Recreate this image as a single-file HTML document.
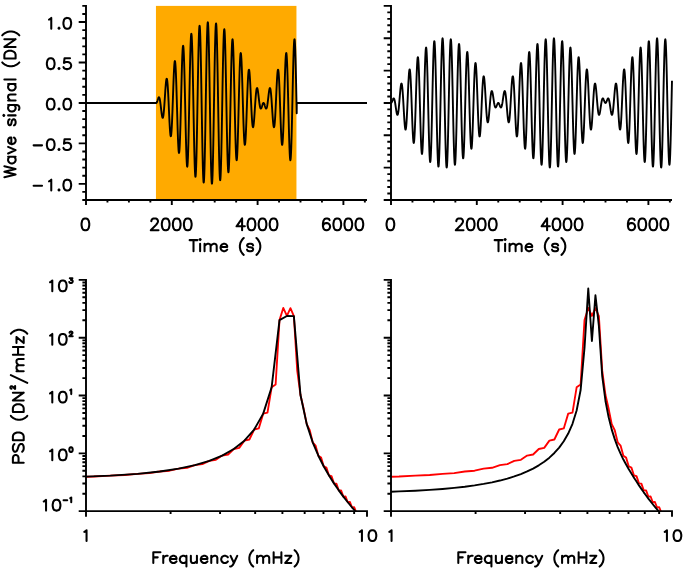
<!DOCTYPE html>
<html><head><meta charset="utf-8"><title>chart</title><style>html,body{margin:0;padding:0;background:#fff;font-family:"Liberation Sans",sans-serif}svg{display:block}</style></head><body>
<svg width="685" height="571" viewBox="0 0 685 571">
<rect width="685" height="571" fill="#fff"/>
<rect x="155.95" y="5.90" width="140.50" height="194.10" fill="#FFAA00"/>
<path d="M86.00 102.95L156.25 102.95L156.25 102.95L156.34 102.94L156.42 102.90L156.51 102.83L156.59 102.74L156.68 102.62L156.76 102.48L156.85 102.32L156.94 102.14L157.02 101.94L157.11 101.71L157.19 101.48L157.28 101.23L157.37 100.97L157.45 100.70L157.54 100.42L157.62 100.14L157.71 99.85L157.79 99.57L157.88 99.30L157.97 99.03L158.05 98.77L158.14 98.52L158.22 98.29L158.31 98.07L158.40 97.88L158.48 97.71L158.57 97.57L158.65 97.45L158.74 97.37L158.82 97.31L158.91 97.30L159.00 97.31L159.08 97.37L159.17 97.46L159.25 97.59L159.34 97.76L159.42 97.98L159.51 98.23L159.60 98.53L159.68 98.86L159.77 99.24L159.85 99.65L159.94 100.11L160.03 100.60L160.11 101.13L160.20 101.69L160.28 102.28L160.37 102.90L160.45 103.55L160.54 104.22L160.63 104.91L160.71 105.62L160.80 106.35L160.88 107.08L160.97 107.82L161.05 108.56L161.14 109.31L161.23 110.04L161.31 110.77L161.40 111.49L161.48 112.18L161.57 112.86L161.66 113.51L161.74 114.12L161.83 114.71L161.91 115.25L162.00 115.75L162.08 116.21L162.17 116.62L162.26 116.97L162.34 117.27L162.43 117.50L162.51 117.68L162.60 117.79L162.69 117.84L162.77 117.81L162.86 117.72L162.94 117.55L163.03 117.32L163.11 117.00L163.20 116.62L163.29 116.17L163.37 115.64L163.46 115.04L163.54 114.37L163.63 113.63L163.71 112.83L163.80 111.96L163.89 111.03L163.97 110.05L164.06 109.01L164.14 107.92L164.23 106.78L164.32 105.61L164.40 104.39L164.49 103.14L164.57 101.87L164.66 100.58L164.74 99.27L164.83 97.95L164.92 96.63L165.00 95.31L165.09 93.99L165.17 92.70L165.26 91.42L165.34 90.18L165.43 88.96L165.52 87.79L165.60 86.67L165.69 85.59L165.77 84.58L165.86 83.63L165.95 82.75L166.03 81.94L166.12 81.21L166.20 80.57L166.29 80.02L166.37 79.56L166.46 79.19L166.55 78.93L166.63 78.77L166.72 78.71L166.80 78.76L166.89 78.92L166.98 79.18L167.06 79.56L167.15 80.04L167.23 80.64L167.32 81.34L167.40 82.14L167.49 83.06L167.58 84.07L167.66 85.18L167.75 86.38L167.83 87.68L167.92 89.06L168.00 90.53L168.09 92.06L168.18 93.67L168.26 95.34L168.35 97.07L168.43 98.85L168.52 100.66L168.61 102.52L168.69 104.40L168.78 106.30L168.86 108.21L168.95 110.12L169.03 112.02L169.12 113.91L169.21 115.77L169.29 117.61L169.38 119.40L169.46 121.14L169.55 122.82L169.64 124.44L169.72 125.98L169.81 127.45L169.89 128.82L169.98 130.09L170.06 131.26L170.15 132.33L170.24 133.27L170.32 134.10L170.41 134.79L170.49 135.36L170.58 135.79L170.66 136.09L170.75 136.24L170.84 136.25L170.92 136.11L171.01 135.83L171.09 135.40L171.18 134.83L171.27 134.11L171.35 133.24L171.44 132.24L171.52 131.10L171.61 129.82L171.69 128.41L171.78 126.88L171.87 125.23L171.95 123.46L172.04 121.59L172.12 119.62L172.21 117.55L172.29 115.40L172.38 113.17L172.47 110.88L172.55 108.53L172.64 106.14L172.72 103.70L172.81 101.24L172.90 98.77L172.98 96.29L173.07 93.81L173.15 91.35L173.24 88.92L173.32 86.53L173.41 84.18L173.50 81.89L173.58 79.68L173.67 77.55L173.75 75.50L173.84 73.56L173.93 71.73L174.01 70.01L174.10 68.43L174.18 66.98L174.27 65.67L174.35 64.51L174.44 63.51L174.53 62.68L174.61 62.01L174.70 61.51L174.78 61.18L174.87 61.03L174.95 61.07L175.04 61.28L175.13 61.68L175.21 62.26L175.30 63.02L175.38 63.96L175.47 65.07L175.56 66.36L175.64 67.82L175.73 69.44L175.81 71.21L175.90 73.14L175.98 75.21L176.07 77.42L176.16 79.75L176.24 82.21L176.33 84.77L176.41 87.43L176.50 90.17L176.58 93.00L176.67 95.88L176.76 98.82L176.84 101.80L176.93 104.80L177.01 107.82L177.10 110.84L177.19 113.84L177.27 116.83L177.36 119.77L177.44 122.66L177.53 125.48L177.61 128.23L177.70 130.89L177.79 133.45L177.87 135.89L177.96 138.21L178.04 140.39L178.13 142.42L178.22 144.30L178.30 146.02L178.39 147.55L178.47 148.91L178.56 150.08L178.64 151.05L178.73 151.82L178.82 152.38L178.90 152.74L178.99 152.88L179.07 152.81L179.16 152.53L179.24 152.03L179.33 151.31L179.42 150.38L179.50 149.24L179.59 147.90L179.67 146.35L179.76 144.61L179.85 142.67L179.93 140.55L180.02 138.26L180.10 135.81L180.19 133.19L180.27 130.43L180.36 127.54L180.45 124.52L180.53 121.39L180.62 118.17L180.70 114.86L180.79 111.48L180.88 108.04L180.96 104.57L181.05 101.06L181.13 97.54L181.22 94.03L181.30 90.54L181.39 87.08L181.48 83.67L181.56 80.32L181.65 77.05L181.73 73.87L181.82 70.81L181.90 67.86L181.99 65.05L182.08 62.39L182.16 59.89L182.25 57.56L182.33 55.41L182.42 53.45L182.51 51.70L182.59 50.16L182.68 48.84L182.76 47.74L182.85 46.88L182.93 46.25L183.02 45.87L183.11 45.72L183.19 45.82L183.28 46.17L183.36 46.76L183.45 47.60L183.53 48.68L183.62 50.00L183.71 51.55L183.79 53.33L183.88 55.34L183.96 57.55L184.05 59.97L184.14 62.59L184.22 65.40L184.31 68.38L184.39 71.52L184.48 74.81L184.56 78.23L184.65 81.78L184.74 85.44L184.82 89.19L184.91 93.01L184.99 96.90L185.08 100.82L185.17 104.78L185.25 108.74L185.34 112.70L185.42 116.63L185.51 120.52L185.59 124.35L185.68 128.11L185.77 131.78L185.85 135.33L185.94 138.77L186.02 142.06L186.11 145.20L186.19 148.17L186.28 150.96L186.37 153.56L186.45 155.95L186.54 158.12L186.62 160.07L186.71 161.77L186.80 163.24L186.88 164.44L186.97 165.39L187.05 166.08L187.14 166.50L187.22 166.64L187.31 166.52L187.40 166.12L187.48 165.44L187.57 164.50L187.65 163.29L187.74 161.82L187.82 160.08L187.91 158.10L188.00 155.87L188.08 153.41L188.17 150.72L188.25 147.81L188.34 144.71L188.43 141.41L188.51 137.93L188.60 134.30L188.68 130.51L188.77 126.59L188.85 122.56L188.94 118.43L189.03 114.22L189.11 109.94L189.20 105.62L189.28 101.28L189.37 96.92L189.46 92.58L189.54 88.26L189.63 84.00L189.71 79.80L189.80 75.68L189.88 71.67L189.97 67.78L190.06 64.03L190.14 60.43L190.23 57.01L190.31 53.76L190.40 50.72L190.48 47.90L190.57 45.30L190.66 42.93L190.74 40.82L190.83 38.97L190.91 37.39L191.00 36.08L191.09 35.05L191.17 34.32L191.26 33.87L191.34 33.72L191.43 33.87L191.51 34.31L191.60 35.05L191.69 36.08L191.77 37.40L191.86 39.00L191.94 40.89L192.03 43.04L192.12 45.46L192.20 48.13L192.29 51.05L192.37 54.19L192.46 57.55L192.54 61.12L192.63 64.88L192.72 68.81L192.80 72.89L192.89 77.12L192.97 81.47L193.06 85.92L193.14 90.46L193.23 95.06L193.32 99.71L193.40 104.39L193.49 109.07L193.57 113.74L193.66 118.37L193.75 122.95L193.83 127.46L193.92 131.87L194.00 136.17L194.09 140.34L194.17 144.36L194.26 148.21L194.35 151.88L194.43 155.34L194.52 158.60L194.60 161.62L194.69 164.39L194.77 166.91L194.86 169.16L194.95 171.14L195.03 172.82L195.12 174.21L195.20 175.30L195.29 176.08L195.38 176.55L195.46 176.71L195.55 176.55L195.63 176.08L195.72 175.29L195.80 174.19L195.89 172.78L195.98 171.07L196.06 169.06L196.15 166.77L196.23 164.20L196.32 161.36L196.41 158.27L196.49 154.93L196.58 151.36L196.66 147.58L196.75 143.60L196.83 139.43L196.92 135.11L197.01 130.63L197.09 126.03L197.18 121.32L197.26 116.52L197.35 111.66L197.43 106.75L197.52 101.81L197.61 96.87L197.69 91.94L197.78 87.06L197.86 82.23L197.95 77.48L198.04 72.83L198.12 68.30L198.21 63.92L198.29 59.69L198.38 55.64L198.46 51.78L198.55 48.14L198.64 44.72L198.72 41.55L198.81 38.64L198.89 36.00L198.98 33.63L199.06 31.56L199.15 29.80L199.24 28.34L199.32 27.20L199.41 26.38L199.49 25.89L199.58 25.73L199.67 25.90L199.75 26.40L199.84 27.22L199.92 28.38L200.01 29.85L200.09 31.64L200.18 33.73L200.27 36.13L200.35 38.81L200.44 41.77L200.52 45.00L200.61 48.48L200.70 52.20L200.78 56.14L200.87 60.29L200.95 64.63L201.04 69.13L201.12 73.79L201.21 78.57L201.30 83.47L201.38 88.46L201.47 93.51L201.55 98.61L201.64 103.74L201.72 108.87L201.81 113.98L201.90 119.05L201.98 124.06L202.07 128.98L202.15 133.80L202.24 138.49L202.33 143.03L202.41 147.41L202.50 151.60L202.58 155.59L202.67 159.36L202.75 162.89L202.84 166.17L202.93 169.18L203.01 171.91L203.10 174.35L203.18 176.48L203.27 178.31L203.36 179.81L203.44 180.99L203.53 181.83L203.61 182.33L203.70 182.50L203.78 182.33L203.87 181.82L203.96 180.97L204.04 179.78L204.13 178.27L204.21 176.43L204.30 174.28L204.38 171.82L204.47 169.06L204.56 166.02L204.64 162.70L204.73 159.13L204.81 155.32L204.90 151.27L204.99 147.02L205.07 142.58L205.16 137.96L205.24 133.20L205.33 128.29L205.41 123.28L205.50 118.18L205.59 113.01L205.67 107.79L205.76 102.55L205.84 97.30L205.93 92.08L206.01 86.90L206.10 81.79L206.19 76.76L206.27 71.85L206.36 67.06L206.44 62.43L206.53 57.96L206.62 53.69L206.70 49.62L206.79 45.78L206.87 42.19L206.96 38.85L207.04 35.78L207.13 33.00L207.22 30.52L207.30 28.35L207.39 26.49L207.47 24.96L207.56 23.77L207.65 22.91L207.73 22.39L207.82 22.22L207.90 22.40L207.99 22.91L208.07 23.77L208.16 24.97L208.25 26.51L208.33 28.37L208.42 30.55L208.50 33.03L208.59 35.82L208.67 38.90L208.76 42.25L208.85 45.86L208.93 49.72L209.02 53.80L209.10 58.09L209.19 62.58L209.28 67.24L209.36 72.05L209.45 77.00L209.53 82.05L209.62 87.20L209.70 92.41L209.79 97.67L209.88 102.95L209.96 108.23L210.05 113.49L210.13 118.70L210.22 123.85L210.30 128.90L210.39 133.85L210.48 138.66L210.56 143.32L210.65 147.81L210.73 152.10L210.82 156.18L210.91 160.04L210.99 163.65L211.08 167.00L211.16 170.08L211.25 172.87L211.33 175.35L211.42 177.53L211.51 179.39L211.59 180.93L211.68 182.13L211.76 182.99L211.85 183.50L211.94 183.68L212.02 183.51L212.11 182.99L212.19 182.13L212.28 180.94L212.36 179.41L212.45 177.55L212.54 175.38L212.62 172.90L212.71 170.12L212.79 167.05L212.88 163.71L212.96 160.12L213.05 156.28L213.14 152.21L213.22 147.94L213.31 143.47L213.39 138.84L213.48 134.05L213.57 129.14L213.65 124.11L213.74 119.00L213.82 113.82L213.91 108.60L213.99 103.35L214.08 98.11L214.17 92.89L214.25 87.72L214.34 82.62L214.42 77.61L214.51 72.70L214.60 67.94L214.68 63.32L214.77 58.88L214.85 54.63L214.94 50.58L215.02 46.77L215.11 43.20L215.20 39.88L215.28 36.84L215.37 34.08L215.45 31.62L215.54 29.47L215.62 27.63L215.71 26.12L215.80 24.93L215.88 24.08L215.97 23.57L216.05 23.40L216.14 23.57L216.23 24.07L216.31 24.91L216.40 26.09L216.48 27.59L216.57 29.42L216.65 31.55L216.74 33.99L216.83 36.72L216.91 39.73L217.00 43.01L217.08 46.54L217.17 50.31L217.25 54.30L217.34 58.49L217.43 62.87L217.51 67.41L217.60 72.10L217.68 76.92L217.77 81.84L217.86 86.85L217.94 91.92L218.03 97.03L218.11 102.16L218.20 107.29L218.28 112.39L218.37 117.44L218.46 122.43L218.54 127.33L218.63 132.11L218.71 136.77L218.80 141.27L218.89 145.61L218.97 149.76L219.06 153.70L219.14 157.42L219.23 160.90L219.31 164.13L219.40 167.09L219.49 169.77L219.57 172.17L219.66 174.26L219.74 176.05L219.83 177.52L219.91 178.68L220.00 179.50L220.09 180.00L220.17 180.17L220.26 180.01L220.34 179.52L220.43 178.70L220.52 177.56L220.60 176.10L220.69 174.34L220.77 172.27L220.86 169.90L220.94 167.26L221.03 164.35L221.12 161.18L221.20 157.76L221.29 154.12L221.37 150.26L221.46 146.21L221.54 141.98L221.63 137.60L221.72 133.07L221.80 128.42L221.89 123.67L221.97 118.84L222.06 113.96L222.15 109.03L222.23 104.09L222.32 99.15L222.40 94.24L222.49 89.38L222.57 84.58L222.66 79.87L222.75 75.27L222.83 70.79L222.92 66.47L223.00 62.30L223.09 58.32L223.18 54.54L223.26 50.97L223.35 47.63L223.43 44.54L223.52 41.70L223.60 39.13L223.69 36.84L223.78 34.83L223.86 33.12L223.95 31.71L224.03 30.61L224.12 29.82L224.20 29.35L224.29 29.19L224.38 29.35L224.46 29.82L224.55 30.60L224.63 31.69L224.72 33.08L224.81 34.76L224.89 36.74L224.98 38.99L225.06 41.51L225.15 44.28L225.23 47.30L225.32 50.56L225.41 54.02L225.49 57.69L225.58 61.54L225.66 65.56L225.75 69.73L225.84 74.03L225.92 78.44L226.01 82.95L226.09 87.53L226.18 92.16L226.26 96.83L226.35 101.51L226.44 106.19L226.52 110.84L226.61 115.44L226.69 119.98L226.78 124.43L226.86 128.78L226.95 133.01L227.04 137.09L227.12 141.02L227.21 144.78L227.29 148.35L227.38 151.71L227.47 154.85L227.55 157.77L227.64 160.44L227.72 162.86L227.81 165.01L227.89 166.90L227.98 168.50L228.07 169.82L228.15 170.85L228.24 171.59L228.32 172.03L228.41 172.18L228.49 172.03L228.58 171.58L228.67 170.85L228.75 169.82L228.84 168.51L228.92 166.93L229.01 165.08L229.10 162.97L229.18 160.60L229.27 158.00L229.35 155.18L229.44 152.14L229.52 148.89L229.61 145.47L229.70 141.87L229.78 138.12L229.87 134.23L229.95 130.22L230.04 126.10L230.13 121.90L230.21 117.64L230.30 113.32L230.38 108.98L230.47 104.62L230.55 100.28L230.64 95.96L230.73 91.68L230.81 87.47L230.90 83.34L230.98 79.31L231.07 75.39L231.15 71.60L231.24 67.97L231.33 64.49L231.41 61.19L231.50 58.09L231.58 55.18L231.67 52.49L231.76 50.03L231.84 47.80L231.93 45.82L232.01 44.08L232.10 42.61L232.18 41.40L232.27 40.46L232.36 39.78L232.44 39.38L232.53 39.26L232.61 39.40L232.70 39.82L232.78 40.51L232.87 41.46L232.96 42.66L233.04 44.13L233.13 45.83L233.21 47.78L233.30 49.95L233.39 52.34L233.47 54.94L233.56 57.73L233.64 60.70L233.73 63.84L233.81 67.13L233.90 70.57L233.99 74.12L234.07 77.79L234.16 81.55L234.24 85.38L234.33 89.27L234.42 93.20L234.50 97.16L234.59 101.12L234.67 105.08L234.76 109.00L234.84 112.89L234.93 116.71L235.02 120.46L235.10 124.12L235.19 127.67L235.27 131.09L235.36 134.38L235.44 137.52L235.53 140.50L235.62 143.31L235.70 145.93L235.79 148.35L235.87 150.56L235.96 152.57L236.05 154.35L236.13 155.90L236.22 157.22L236.30 158.30L236.39 159.14L236.47 159.73L236.56 160.08L236.65 160.18L236.73 160.03L236.82 159.65L236.90 159.02L236.99 158.16L237.08 157.06L237.16 155.74L237.25 154.20L237.33 152.45L237.42 150.49L237.50 148.34L237.59 146.01L237.68 143.51L237.76 140.85L237.85 138.04L237.93 135.09L238.02 132.03L238.10 128.85L238.19 125.58L238.28 122.23L238.36 118.82L238.45 115.36L238.53 111.87L238.62 108.36L238.71 104.84L238.79 101.33L238.88 97.86L238.96 94.42L239.05 91.04L239.13 87.73L239.22 84.51L239.31 81.38L239.39 78.36L239.48 75.47L239.56 72.71L239.65 70.09L239.73 67.64L239.82 65.35L239.91 63.23L239.99 61.29L240.08 59.55L240.16 58.00L240.25 56.66L240.34 55.52L240.42 54.59L240.51 53.87L240.59 53.37L240.68 53.09L240.76 53.02L240.85 53.16L240.94 53.52L241.02 54.08L241.11 54.85L241.19 55.82L241.28 56.99L241.37 58.35L241.45 59.88L241.54 61.60L241.62 63.48L241.71 65.51L241.79 67.69L241.88 70.01L241.97 72.45L242.05 75.01L242.14 77.67L242.22 80.42L242.31 83.24L242.39 86.13L242.48 89.07L242.57 92.06L242.65 95.06L242.74 98.08L242.82 101.10L242.91 104.10L243.00 107.08L243.08 110.02L243.17 112.90L243.25 115.73L243.34 118.47L243.42 121.13L243.51 123.69L243.60 126.15L243.68 128.48L243.77 130.69L243.85 132.76L243.94 134.69L244.02 136.46L244.11 138.08L244.20 139.54L244.28 140.83L244.37 141.94L244.45 142.88L244.54 143.64L244.63 144.22L244.71 144.62L244.80 144.83L244.88 144.87L244.97 144.72L245.05 144.39L245.14 143.89L245.23 143.22L245.31 142.39L245.40 141.39L245.48 140.23L245.57 138.92L245.66 137.47L245.74 135.89L245.83 134.17L245.91 132.34L246.00 130.40L246.08 128.35L246.17 126.22L246.26 124.01L246.34 121.72L246.43 119.37L246.51 116.98L246.60 114.55L246.68 112.09L246.77 109.61L246.86 107.13L246.94 104.66L247.03 102.20L247.11 99.76L247.20 97.37L247.29 95.02L247.37 92.73L247.46 90.50L247.54 88.35L247.63 86.28L247.71 84.31L247.80 82.44L247.89 80.67L247.97 79.02L248.06 77.49L248.14 76.08L248.23 74.80L248.32 73.66L248.40 72.66L248.49 71.79L248.57 71.07L248.66 70.50L248.74 70.07L248.83 69.79L248.92 69.65L249.00 69.66L249.09 69.81L249.17 70.11L249.26 70.54L249.34 71.11L249.43 71.80L249.52 72.63L249.60 73.57L249.69 74.64L249.77 75.81L249.86 77.08L249.95 78.45L250.03 79.92L250.12 81.46L250.20 83.08L250.29 84.76L250.37 86.50L250.46 88.29L250.55 90.13L250.63 91.99L250.72 93.88L250.80 95.78L250.89 97.69L250.97 99.60L251.06 101.50L251.15 103.38L251.23 105.24L251.32 107.05L251.40 108.83L251.49 110.56L251.58 112.23L251.66 113.84L251.75 115.37L251.83 116.84L251.92 118.22L252.00 119.52L252.09 120.72L252.18 121.83L252.26 122.84L252.35 123.76L252.43 124.56L252.52 125.26L252.61 125.86L252.69 126.34L252.78 126.72L252.86 126.98L252.95 127.14L253.03 127.19L253.12 127.13L253.21 126.97L253.29 126.71L253.38 126.34L253.46 125.88L253.55 125.33L253.63 124.69L253.72 123.96L253.81 123.15L253.89 122.27L253.98 121.32L254.06 120.31L254.15 119.23L254.24 118.11L254.32 116.94L254.41 115.72L254.49 114.48L254.58 113.20L254.66 111.91L254.75 110.59L254.84 109.27L254.92 107.95L255.01 106.63L255.09 105.32L255.18 104.03L255.26 102.76L255.35 101.51L255.44 100.29L255.52 99.12L255.61 97.98L255.69 96.89L255.78 95.85L255.87 94.87L255.95 93.94L256.04 93.07L256.12 92.27L256.21 91.53L256.29 90.86L256.38 90.26L256.47 89.73L256.55 89.28L256.64 88.90L256.72 88.58L256.81 88.35L256.90 88.18L256.98 88.09L257.07 88.06L257.15 88.11L257.24 88.22L257.32 88.40L257.41 88.63L257.50 88.93L257.58 89.28L257.67 89.69L257.75 90.15L257.84 90.65L257.92 91.19L258.01 91.78L258.10 92.39L258.18 93.04L258.27 93.72L258.35 94.41L258.44 95.13L258.53 95.86L258.61 96.59L258.70 97.34L258.78 98.08L258.87 98.82L258.95 99.55L259.04 100.28L259.13 100.99L259.21 101.68L259.30 102.35L259.38 103.00L259.47 103.62L259.56 104.21L259.64 104.77L259.73 105.30L259.81 105.79L259.90 106.25L259.98 106.66L260.07 107.04L260.16 107.37L260.24 107.67L260.33 107.92L260.41 108.14L260.50 108.31L260.58 108.44L260.67 108.53L260.76 108.59L260.84 108.60L260.93 108.59L261.01 108.53L261.10 108.45L261.19 108.33L261.27 108.19L261.36 108.02L261.44 107.83L261.53 107.61L261.61 107.38L261.70 107.13L261.79 106.87L261.87 106.60L261.96 106.33L262.04 106.05L262.13 105.76L262.21 105.48L262.30 105.20L262.39 104.93L262.47 104.67L262.56 104.42L262.64 104.19L262.73 103.96L262.82 103.76L262.90 103.58L262.99 103.42L263.07 103.28L263.16 103.16L263.24 103.07L263.33 103.00L263.42 102.96L263.50 102.95L263.59 102.96L263.67 103.00L263.76 103.07L263.85 103.16L263.93 103.28L264.02 103.42L264.10 103.58L264.19 103.76L264.27 103.96L264.36 104.19L264.45 104.42L264.53 104.67L264.62 104.93L264.70 105.20L264.79 105.48L264.87 105.76L264.96 106.05L265.05 106.33L265.13 106.60L265.22 106.87L265.30 107.13L265.39 107.38L265.48 107.61L265.56 107.83L265.65 108.02L265.73 108.19L265.82 108.33L265.90 108.45L265.99 108.53L266.08 108.59L266.16 108.60L266.25 108.59L266.33 108.53L266.42 108.44L266.50 108.31L266.59 108.14L266.68 107.92L266.76 107.67L266.85 107.37L266.93 107.04L267.02 106.66L267.11 106.25L267.19 105.79L267.28 105.30L267.36 104.77L267.45 104.21L267.53 103.62L267.62 103.00L267.71 102.35L267.79 101.68L267.88 100.99L267.96 100.28L268.05 99.55L268.14 98.82L268.22 98.08L268.31 97.34L268.39 96.59L268.48 95.86L268.56 95.13L268.65 94.41L268.74 93.72L268.82 93.04L268.91 92.39L268.99 91.78L269.08 91.19L269.16 90.65L269.25 90.15L269.34 89.69L269.42 89.28L269.51 88.93L269.59 88.63L269.68 88.40L269.77 88.22L269.85 88.11L269.94 88.06L270.02 88.09L270.11 88.18L270.19 88.35L270.28 88.58L270.37 88.90L270.45 89.28L270.54 89.73L270.62 90.26L270.71 90.86L270.80 91.53L270.88 92.27L270.97 93.07L271.05 93.94L271.14 94.87L271.22 95.85L271.31 96.89L271.40 97.98L271.48 99.12L271.57 100.29L271.65 101.51L271.74 102.76L271.82 104.03L271.91 105.32L272.00 106.63L272.08 107.95L272.17 109.27L272.25 110.59L272.34 111.91L272.43 113.20L272.51 114.48L272.60 115.72L272.68 116.94L272.77 118.11L272.85 119.23L272.94 120.31L273.03 121.32L273.11 122.27L273.20 123.15L273.28 123.96L273.37 124.69L273.45 125.33L273.54 125.88L273.63 126.34L273.71 126.71L273.80 126.97L273.88 127.13L273.97 127.19L274.06 127.14L274.14 126.98L274.23 126.72L274.31 126.34L274.40 125.86L274.48 125.26L274.57 124.56L274.66 123.76L274.74 122.84L274.83 121.83L274.91 120.72L275.00 119.52L275.09 118.22L275.17 116.84L275.26 115.37L275.34 113.84L275.43 112.23L275.51 110.56L275.60 108.83L275.69 107.05L275.77 105.24L275.86 103.38L275.94 101.50L276.03 99.60L276.11 97.69L276.20 95.78L276.29 93.88L276.37 91.99L276.46 90.13L276.54 88.29L276.63 86.50L276.72 84.76L276.80 83.08L276.89 81.46L276.97 79.92L277.06 78.45L277.14 77.08L277.23 75.81L277.32 74.64L277.40 73.57L277.49 72.63L277.57 71.80L277.66 71.11L277.74 70.54L277.83 70.11L277.92 69.81L278.00 69.66L278.09 69.65L278.17 69.79L278.26 70.07L278.35 70.50L278.43 71.07L278.52 71.79L278.60 72.66L278.69 73.66L278.77 74.80L278.86 76.08L278.95 77.49L279.03 79.02L279.12 80.67L279.20 82.44L279.29 84.31L279.38 86.28L279.46 88.35L279.55 90.50L279.63 92.73L279.72 95.02L279.80 97.37L279.89 99.76L279.98 102.20L280.06 104.66L280.15 107.13L280.23 109.61L280.32 112.09L280.40 114.55L280.49 116.98L280.58 119.37L280.66 121.72L280.75 124.01L280.83 126.22L280.92 128.35L281.01 130.40L281.09 132.34L281.18 134.17L281.26 135.89L281.35 137.47L281.43 138.92L281.52 140.23L281.61 141.39L281.69 142.39L281.78 143.22L281.86 143.89L281.95 144.39L282.04 144.72L282.12 144.87L282.21 144.83L282.29 144.62L282.38 144.22L282.46 143.64L282.55 142.88L282.64 141.94L282.72 140.83L282.81 139.54L282.89 138.08L282.98 136.46L283.06 134.69L283.15 132.76L283.24 130.69L283.32 128.48L283.41 126.15L283.49 123.69L283.58 121.13L283.67 118.47L283.75 115.73L283.84 112.90L283.92 110.02L284.01 107.08L284.09 104.10L284.18 101.10L284.27 98.08L284.35 95.06L284.44 92.06L284.52 89.07L284.61 86.13L284.69 83.24L284.78 80.42L284.87 77.67L284.95 75.01L285.04 72.45L285.12 70.01L285.21 67.69L285.30 65.51L285.38 63.48L285.47 61.60L285.55 59.88L285.64 58.35L285.72 56.99L285.81 55.82L285.90 54.85L285.98 54.08L286.07 53.52L286.15 53.16L286.24 53.02L286.33 53.09L286.41 53.37L286.50 53.87L286.58 54.59L286.67 55.52L286.75 56.66L286.84 58.00L286.93 59.55L287.01 61.29L287.10 63.23L287.18 65.35L287.27 67.64L287.35 70.09L287.44 72.71L287.53 75.47L287.61 78.36L287.70 81.38L287.78 84.51L287.87 87.73L287.96 91.04L288.04 94.42L288.13 97.86L288.21 101.33L288.30 104.84L288.38 108.36L288.47 111.87L288.56 115.36L288.64 118.82L288.73 122.23L288.81 125.58L288.90 128.85L288.98 132.03L289.07 135.09L289.16 138.04L289.24 140.85L289.33 143.51L289.41 146.01L289.50 148.34L289.59 150.49L289.67 152.45L289.76 154.20L289.84 155.74L289.93 157.06L290.01 158.16L290.10 159.02L290.19 159.65L290.27 160.03L290.36 160.18L290.44 160.08L290.53 159.73L290.62 159.14L290.70 158.30L290.79 157.22L290.87 155.90L290.96 154.35L291.04 152.57L291.13 150.56L291.22 148.35L291.30 145.93L291.39 143.31L291.47 140.50L291.56 137.52L291.64 134.38L291.73 131.09L291.82 127.67L291.90 124.12L291.99 120.46L292.07 116.71L292.16 112.89L292.25 109.00L292.33 105.08L292.42 101.12L292.50 97.16L292.59 93.20L292.67 89.27L292.76 85.38L292.85 81.55L292.93 77.79L293.02 74.12L293.10 70.57L293.19 67.13L293.28 63.84L293.36 60.70L293.45 57.73L293.53 54.94L293.62 52.34L293.70 49.95L293.79 47.78L293.88 45.83L293.96 44.13L294.05 42.66L294.13 41.46L294.22 40.51L294.30 39.82L294.39 39.40L294.48 39.26L294.56 39.38L294.65 39.78L294.73 40.46L294.82 41.40L294.91 42.61L294.99 44.08L295.08 45.82L295.16 47.80L295.25 50.03L295.33 52.49L295.42 55.18L295.51 58.09L295.59 61.19L295.68 64.49L295.76 67.97L295.85 71.60L295.93 75.39L296.02 79.31L296.11 83.34L296.19 87.47L296.28 91.68L296.36 95.96L296.45 100.28L296.54 104.62L296.62 108.98L296.71 113.32L296.75 102.95L367.00 102.95" fill="none" stroke="#000" stroke-width="1.9" stroke-linecap="butt" stroke-linejoin="round"/>
<path d="M86.00 4.95L86.00 200.95M85.05 200.00L367.00 200.00M86.00 200.00L82.30 200.00M86.00 191.91L82.30 191.91M86.00 183.83L78.70 183.83M86.00 175.74L82.30 175.74M86.00 167.65L82.30 167.65M86.00 159.56L82.30 159.56M86.00 151.47L82.30 151.47M86.00 143.39L78.70 143.39M86.00 135.30L82.30 135.30M86.00 127.21L82.30 127.21M86.00 119.12L82.30 119.12M86.00 111.04L82.30 111.04M86.00 102.95L78.70 102.95M86.00 94.86L82.30 94.86M86.00 86.77L82.30 86.77M86.00 78.69L82.30 78.69M86.00 70.60L82.30 70.60M86.00 62.51L78.70 62.51M86.00 54.42L82.30 54.42M86.00 46.34L82.30 46.34M86.00 38.25L82.30 38.25M86.00 30.16L82.30 30.16M86.00 22.07L78.70 22.07M86.00 13.99L82.30 13.99M86.00 5.90L82.30 5.90M86.00 200.00L86.00 204.90M107.45 200.00L107.45 202.40M128.90 200.00L128.90 202.40M150.35 200.00L150.35 202.40M171.80 200.00L171.80 204.90M193.25 200.00L193.25 202.40M214.70 200.00L214.70 202.40M236.15 200.00L236.15 202.40M257.60 200.00L257.60 204.90M279.05 200.00L279.05 202.40M300.50 200.00L300.50 202.40M321.95 200.00L321.95 202.40M343.40 200.00L343.40 204.90M364.85 200.00L364.85 202.40" fill="none" stroke="#000" stroke-width="1.9" stroke-linecap="butt" stroke-linejoin="miter"/>
<path d="M84.85 218.44L83.19 219.00L82.09 220.70L81.54 223.52L81.54 225.22L82.09 228.04L83.19 229.74L84.85 230.30L85.95 230.30L87.61 229.74L88.71 228.04L89.26 225.22L89.26 223.52L88.71 220.70L87.61 219.00L85.95 218.44L84.85 218.44" fill="none" stroke="#000" stroke-width="2.05" stroke-linecap="round" stroke-linejoin="round"/>
<path d="M151.33 221.26L151.33 220.70L151.88 219.56L152.43 219.00L153.54 218.44L155.75 218.44L156.85 219.00L157.40 219.56L157.95 220.70L157.95 221.83L157.40 222.96L156.30 224.65L150.78 230.30L158.51 230.30M165.13 218.44L163.47 219.00L162.37 220.70L161.82 223.52L161.82 225.22L162.37 228.04L163.47 229.74L165.13 230.30L166.23 230.30L167.89 229.74L168.99 228.04L169.55 225.22L169.55 223.52L168.99 220.70L167.89 219.00L166.23 218.44L165.13 218.44M176.17 218.44L174.51 219.00L173.41 220.70L172.86 223.52L172.86 225.22L173.41 228.04L174.51 229.74L176.17 230.30L177.27 230.30L178.93 229.74L180.03 228.04L180.59 225.22L180.59 223.52L180.03 220.70L178.93 219.00L177.27 218.44L176.17 218.44M187.21 218.44L185.55 219.00L184.45 220.70L183.90 223.52L183.90 225.22L184.45 228.04L185.55 229.74L187.21 230.30L188.31 230.30L189.97 229.74L191.07 228.04L191.63 225.22L191.63 223.52L191.07 220.70L189.97 219.00L188.31 218.44L187.21 218.44" fill="none" stroke="#000" stroke-width="2.05" stroke-linecap="round" stroke-linejoin="round"/>
<path d="M242.10 218.44L236.58 226.34L244.86 226.34M242.10 218.44L242.10 230.30M250.93 218.44L249.28 219.00L248.17 220.70L247.62 223.52L247.62 225.22L248.17 228.04L249.28 229.74L250.93 230.30L252.04 230.30L253.69 229.74L254.80 228.04L255.35 225.22L255.35 223.52L254.80 220.70L253.69 219.00L252.04 218.44L250.93 218.44M261.97 218.44L260.32 219.00L259.21 220.70L258.66 223.52L258.66 225.22L259.21 228.04L260.32 229.74L261.97 230.30L263.08 230.30L264.73 229.74L265.84 228.04L266.39 225.22L266.39 223.52L265.84 220.70L264.73 219.00L263.08 218.44L261.97 218.44M273.01 218.44L271.36 219.00L270.25 220.70L269.70 223.52L269.70 225.22L270.25 228.04L271.36 229.74L273.01 230.30L274.12 230.30L275.77 229.74L276.88 228.04L277.43 225.22L277.43 223.52L276.88 220.70L275.77 219.00L274.12 218.44L273.01 218.44" fill="none" stroke="#000" stroke-width="2.05" stroke-linecap="round" stroke-linejoin="round"/>
<path d="M329.56 220.13L329.00 219.00L327.35 218.44L326.24 218.44L324.59 219.00L323.48 220.70L322.93 223.52L322.93 226.34L323.48 228.61L324.59 229.74L326.24 230.30L326.80 230.30L328.45 229.74L329.56 228.61L330.11 226.91L330.11 226.34L329.56 224.65L328.45 223.52L326.80 222.96L326.24 222.96L324.59 223.52L323.48 224.65L322.93 226.34M336.73 218.44L335.08 219.00L333.97 220.70L333.42 223.52L333.42 225.22L333.97 228.04L335.08 229.74L336.73 230.30L337.84 230.30L339.49 229.74L340.60 228.04L341.15 225.22L341.15 223.52L340.60 220.70L339.49 219.00L337.84 218.44L336.73 218.44M347.77 218.44L346.12 219.00L345.01 220.70L344.46 223.52L344.46 225.22L345.01 228.04L346.12 229.74L347.77 230.30L348.88 230.30L350.53 229.74L351.64 228.04L352.19 225.22L352.19 223.52L351.64 220.70L350.53 219.00L348.88 218.44L347.77 218.44M358.81 218.44L357.16 219.00L356.05 220.70L355.50 223.52L355.50 225.22L356.05 228.04L357.16 229.74L358.81 230.30L359.92 230.30L361.57 229.74L362.68 228.04L363.23 225.22L363.23 223.52L362.68 220.70L361.57 219.00L359.92 218.44L358.81 218.44" fill="none" stroke="#000" stroke-width="2.05" stroke-linecap="round" stroke-linejoin="round"/>
<path d="M193.51 240.13L193.51 251.20M189.64 240.13L197.37 240.13M199.58 239.61L200.13 240.13L200.68 239.61L200.13 239.08L199.58 239.61M200.13 243.82L200.13 251.20M204.55 243.82L204.55 251.20M204.55 245.93L206.20 244.35L207.31 243.82L208.96 243.82L210.07 244.35L210.62 245.93L210.62 251.20M210.62 245.93L212.28 244.35L213.38 243.82L215.04 243.82L216.14 244.35L216.69 245.93L216.69 251.20M220.56 246.98L227.18 246.98L227.18 245.93L226.63 244.88L226.08 244.35L224.97 243.82L223.32 243.82L222.21 244.35L221.11 245.40L220.56 246.98L220.56 248.04L221.11 249.62L222.21 250.67L223.32 251.20L224.97 251.20L226.08 250.67L227.18 249.62M243.74 238.02L242.64 239.08L241.53 240.66L240.43 242.77L239.88 245.40L239.88 247.51L240.43 250.15L241.53 252.25L242.64 253.83L243.74 254.89M253.12 245.40L252.57 244.35L250.92 243.82L249.26 243.82L247.60 244.35L247.05 245.40L247.60 246.46L248.71 246.98L251.47 247.51L252.57 248.04L253.12 249.09L253.12 249.62L252.57 250.67L250.92 251.20L249.26 251.20L247.60 250.67L247.05 249.62M256.44 238.02L257.54 239.08L258.64 240.66L259.75 242.77L260.30 245.40L260.30 247.51L259.75 250.15L258.64 252.25L257.54 253.83L256.44 254.89" fill="none" stroke="#000" stroke-width="2.05" stroke-linecap="round" stroke-linejoin="round"/>
<path d="M49.01 19.59L49.84 19.18L51.27 17.90L51.27 28.67M59.00 27.65L58.45 28.16L59.00 28.67L59.55 28.16L59.00 27.65M66.73 17.90L65.07 18.41L63.97 19.95L63.42 22.52L63.42 24.06L63.97 26.62L65.07 28.16L66.73 28.67L67.83 28.67L69.49 28.16L70.59 26.62L71.14 24.06L71.14 22.52L70.59 19.95L69.49 18.41L67.83 17.90L66.73 17.90" fill="none" stroke="#000" stroke-width="2.05" stroke-linecap="round" stroke-linejoin="round"/>
<path d="M50.17 58.34L48.51 58.85L47.41 60.39L46.86 62.96L46.86 64.50L47.41 67.06L48.51 68.60L50.17 69.11L51.27 69.11L52.93 68.60L54.03 67.06L54.58 64.50L54.58 62.96L54.03 60.39L52.93 58.85L51.27 58.34L50.17 58.34M59.00 68.09L58.45 68.60L59.00 69.11L59.55 68.60L59.00 68.09M70.04 58.34L64.52 58.34L63.97 62.96L64.52 62.44L66.18 61.93L67.83 61.93L69.49 62.44L70.59 63.47L71.14 65.01L71.14 66.03L70.59 67.57L69.49 68.60L67.83 69.11L66.18 69.11L64.52 68.60L63.97 68.09L63.42 67.06" fill="none" stroke="#000" stroke-width="2.05" stroke-linecap="round" stroke-linejoin="round"/>
<path d="M50.17 98.78L48.51 99.29L47.41 100.83L46.86 103.39L46.86 104.93L47.41 107.50L48.51 109.04L50.17 109.55L51.27 109.55L52.93 109.04L54.03 107.50L54.58 104.93L54.58 103.39L54.03 100.83L52.93 99.29L51.27 98.78L50.17 98.78M59.00 108.52L58.45 109.04L59.00 109.55L59.55 109.04L59.00 108.52M66.73 98.78L65.07 99.29L63.97 100.83L63.42 103.39L63.42 104.93L63.97 107.50L65.07 109.04L66.73 109.55L67.83 109.55L69.49 109.04L70.59 107.50L71.14 104.93L71.14 103.39L70.59 100.83L69.49 99.29L67.83 98.78L66.73 98.78" fill="none" stroke="#000" stroke-width="2.05" stroke-linecap="round" stroke-linejoin="round"/>
<path d="M33.61 145.37L42.05 145.37M50.17 139.21L48.51 139.73L47.41 141.27L46.86 143.83L46.86 145.37L47.41 147.94L48.51 149.47L50.17 149.99L51.27 149.99L52.93 149.47L54.03 147.94L54.58 145.37L54.58 143.83L54.03 141.27L52.93 139.73L51.27 139.21L50.17 139.21M59.00 148.96L58.45 149.47L59.00 149.99L59.55 149.47L59.00 148.96M70.04 139.21L64.52 139.21L63.97 143.83L64.52 143.32L66.18 142.81L67.83 142.81L69.49 143.32L70.59 144.34L71.14 145.88L71.14 146.91L70.59 148.45L69.49 149.47L67.83 149.99L66.18 149.99L64.52 149.47L63.97 148.96L63.42 147.94" fill="none" stroke="#000" stroke-width="2.05" stroke-linecap="round" stroke-linejoin="round"/>
<path d="M33.61 185.81L42.05 185.81M49.01 181.34L49.84 180.93L51.27 179.65L51.27 190.43M59.00 189.40L58.45 189.91L59.00 190.43L59.55 189.91L59.00 189.40M66.73 179.65L65.07 180.17L63.97 181.70L63.42 184.27L63.42 185.81L63.97 188.37L65.07 189.91L66.73 190.43L67.83 190.43L69.49 189.91L70.59 188.37L71.14 185.81L71.14 184.27L70.59 181.70L69.49 180.17L67.83 179.65L66.73 179.65" fill="none" stroke="#000" stroke-width="2.05" stroke-linecap="round" stroke-linejoin="round"/>
<path d="M4.36 177.22L15.60 174.46M4.36 171.70L15.60 174.46M4.36 171.70L15.60 168.94M4.36 166.18L15.60 168.94M8.11 156.79L15.60 156.79M9.71 156.79L8.64 157.90L8.11 159.00L8.11 160.66L8.64 161.76L9.71 162.86L11.32 163.42L12.39 163.42L13.99 162.86L15.06 161.76L15.60 160.66L15.60 159.00L15.06 157.90L13.99 156.79M8.11 153.48L15.60 150.17M8.11 146.86L15.60 150.17M11.32 144.10L11.32 137.47L10.25 137.47L9.18 138.02L8.64 138.58L8.11 139.68L8.11 141.34L8.64 142.44L9.71 143.54L11.32 144.10L12.39 144.10L13.99 143.54L15.06 142.44L15.60 141.34L15.60 139.68L15.06 138.58L13.99 137.47M9.71 119.26L8.64 119.81L8.11 121.46L8.11 123.12L8.64 124.78L9.71 125.33L10.79 124.78L11.32 123.67L11.86 120.91L12.39 119.81L13.46 119.26L13.99 119.26L15.06 119.81L15.60 121.46L15.60 123.12L15.06 124.78L13.99 125.33M3.83 115.94L4.36 115.39L3.83 114.84L3.29 115.39L3.83 115.94M8.11 115.39L15.60 115.39M8.11 104.90L16.67 104.90L18.27 105.46L18.81 106.01L19.34 107.11L19.34 108.77L18.81 109.87M9.71 104.90L8.64 106.01L8.11 107.11L8.11 108.77L8.64 109.87L9.71 110.98L11.32 111.53L12.39 111.53L13.99 110.98L15.06 109.87L15.60 108.77L15.60 107.11L15.06 106.01L13.99 104.90M8.11 100.49L15.60 100.49M10.25 100.49L8.64 98.83L8.11 97.73L8.11 96.07L8.64 94.97L10.25 94.42L15.60 94.42M8.11 83.93L15.60 83.93M9.71 83.93L8.64 85.03L8.11 86.14L8.11 87.79L8.64 88.90L9.71 90.00L11.32 90.55L12.39 90.55L13.99 90.00L15.06 88.90L15.60 87.79L15.60 86.14L15.06 85.03L13.99 83.93M4.36 79.51L15.60 79.51M2.22 62.40L3.29 63.50L4.90 64.61L7.04 65.71L9.71 66.26L11.86 66.26L14.53 65.71L16.67 64.61L18.27 63.50L19.34 62.40M4.36 58.54L15.60 58.54M4.36 58.54L4.36 54.67L4.90 53.02L5.97 51.91L7.04 51.36L8.64 50.81L11.32 50.81L12.92 51.36L13.99 51.91L15.06 53.02L15.60 54.67L15.60 58.54M4.36 46.94L15.60 46.94M4.36 46.94L15.60 39.22M4.36 39.22L15.60 39.22M2.22 35.35L3.29 34.25L4.90 33.14L7.04 32.04L9.71 31.49L11.86 31.49L14.53 32.04L16.67 33.14L18.27 34.25L19.34 35.35" fill="none" stroke="#000" stroke-width="2.05" stroke-linecap="round" stroke-linejoin="round"/>
<path d="M391.00 102.95L391.09 102.94L391.17 102.91L391.26 102.85L391.34 102.78L391.43 102.69L391.51 102.58L391.60 102.45L391.69 102.30L391.77 102.14L391.86 101.96L391.94 101.77L392.03 101.57L392.12 101.36L392.20 101.15L392.29 100.92L392.37 100.70L392.46 100.47L392.54 100.25L392.63 100.03L392.72 99.81L392.80 99.60L392.89 99.41L392.97 99.22L393.06 99.05L393.15 98.90L393.23 98.76L393.32 98.64L393.40 98.55L393.49 98.48L393.57 98.44L393.66 98.43L393.75 98.44L393.83 98.48L393.92 98.56L394.00 98.66L394.09 98.80L394.17 98.97L394.26 99.17L394.35 99.41L394.43 99.68L394.52 99.98L394.60 100.31L394.69 100.68L394.78 101.07L394.86 101.49L394.95 101.94L395.03 102.41L395.12 102.91L395.20 103.43L395.29 103.97L395.38 104.52L395.46 105.09L395.55 105.67L395.63 106.25L395.72 106.85L395.80 107.44L395.89 108.04L395.98 108.63L396.06 109.21L396.15 109.78L396.23 110.34L396.32 110.88L396.41 111.39L396.49 111.89L396.58 112.36L396.66 112.79L396.75 113.19L396.83 113.56L396.92 113.88L397.01 114.17L397.09 114.40L397.18 114.59L397.26 114.73L397.35 114.82L397.44 114.86L397.52 114.84L397.61 114.76L397.69 114.63L397.78 114.44L397.86 114.19L397.95 113.89L398.04 113.52L398.12 113.10L398.21 112.62L398.29 112.09L398.38 111.50L398.46 110.85L398.55 110.16L398.64 109.42L398.72 108.63L398.81 107.80L398.89 106.93L398.98 106.02L399.07 105.07L399.15 104.10L399.24 103.11L399.32 102.09L399.41 101.05L399.49 100.00L399.58 98.95L399.67 97.89L399.75 96.83L399.84 95.79L399.92 94.75L400.01 93.73L400.09 92.73L400.18 91.76L400.27 90.82L400.35 89.92L400.44 89.06L400.52 88.25L400.61 87.49L400.70 86.79L400.78 86.14L400.87 85.56L400.95 85.05L401.04 84.60L401.12 84.24L401.21 83.94L401.30 83.73L401.38 83.60L401.47 83.56L401.55 83.60L401.64 83.72L401.73 83.94L401.81 84.24L401.90 84.62L401.98 85.10L402.07 85.66L402.15 86.31L402.24 87.03L402.33 87.84L402.41 88.73L402.50 89.70L402.58 90.73L402.67 91.84L402.75 93.01L402.84 94.24L402.93 95.53L403.01 96.86L403.10 98.25L403.18 99.67L403.27 101.12L403.36 102.60L403.44 104.11L403.53 105.63L403.61 107.15L403.70 108.68L403.78 110.21L403.87 111.72L403.96 113.21L404.04 114.68L404.13 116.11L404.21 117.50L404.30 118.85L404.39 120.14L404.47 121.38L404.56 122.55L404.64 123.64L404.73 124.66L404.81 125.60L404.90 126.45L404.99 127.21L405.07 127.87L405.16 128.43L405.24 128.88L405.33 129.22L405.41 129.46L405.50 129.58L405.59 129.59L405.67 129.48L405.76 129.25L405.84 128.91L405.93 128.45L406.02 127.88L406.10 127.19L406.19 126.38L406.27 125.47L406.36 124.45L406.44 123.32L406.53 122.10L406.62 120.77L406.70 119.36L406.79 117.86L406.87 116.28L406.96 114.63L407.04 112.91L407.13 111.13L407.22 109.30L407.30 107.42L407.39 105.50L407.47 103.55L407.56 101.59L407.65 99.60L407.73 97.62L407.82 95.64L407.90 93.67L407.99 91.73L408.07 89.81L408.16 87.93L408.25 86.11L408.33 84.33L408.42 82.63L408.50 80.99L408.59 79.44L408.68 77.97L408.76 76.60L408.85 75.33L408.93 74.17L409.02 73.13L409.10 72.20L409.19 71.40L409.28 70.73L409.36 70.19L409.45 69.79L409.53 69.53L409.62 69.42L409.70 69.45L409.79 69.62L409.88 69.94L409.96 70.40L410.05 71.01L410.13 71.76L410.22 72.65L410.31 73.68L410.39 74.84L410.48 76.14L410.56 77.56L410.65 79.10L410.73 80.76L410.82 82.53L410.91 84.39L410.99 86.36L411.08 88.41L411.16 90.53L411.25 92.73L411.33 94.99L411.42 97.30L411.51 99.65L411.59 102.03L411.68 104.43L411.76 106.85L411.85 109.26L411.94 111.67L412.02 114.05L412.11 116.40L412.19 118.72L412.28 120.98L412.36 123.18L412.45 125.30L412.54 127.35L412.62 129.30L412.71 131.16L412.79 132.90L412.88 134.53L412.97 136.03L413.05 137.40L413.14 138.63L413.22 139.72L413.31 140.65L413.39 141.43L413.48 142.05L413.57 142.50L413.65 142.78L413.74 142.90L413.82 142.84L413.91 142.61L413.99 142.21L414.08 141.64L414.17 140.89L414.25 139.98L414.34 138.91L414.42 137.67L414.51 136.27L414.60 134.73L414.68 133.03L414.77 131.20L414.85 129.23L414.94 127.14L415.02 124.94L415.11 122.62L415.20 120.21L415.28 117.71L415.37 115.12L415.45 112.48L415.54 109.77L415.63 107.02L415.71 104.24L415.80 101.44L415.88 98.63L415.97 95.81L416.05 93.02L416.14 90.25L416.23 87.52L416.31 84.84L416.40 82.23L416.48 79.69L416.57 77.24L416.65 74.88L416.74 72.63L416.83 70.50L416.91 68.50L417.00 66.63L417.08 64.92L417.17 63.35L417.26 61.95L417.34 60.72L417.43 59.66L417.51 58.79L417.60 58.09L417.68 57.59L417.77 57.28L417.86 57.17L417.94 57.25L418.03 57.53L418.11 58.00L418.20 58.67L418.28 59.54L418.37 60.59L418.46 61.83L418.54 63.26L418.63 64.86L418.71 66.63L418.80 68.57L418.89 70.66L418.97 72.91L419.06 75.29L419.14 77.80L419.23 80.44L419.31 83.18L419.40 86.02L419.49 88.94L419.57 91.94L419.66 95.00L419.74 98.11L419.83 101.25L419.92 104.41L420.00 107.58L420.09 110.75L420.17 113.89L420.26 117.01L420.34 120.07L420.43 123.08L420.52 126.01L420.60 128.86L420.69 131.60L420.77 134.24L420.86 136.75L420.94 139.13L421.03 141.36L421.12 143.44L421.20 145.35L421.29 147.09L421.37 148.64L421.46 150.01L421.55 151.18L421.63 152.14L421.72 152.90L421.80 153.45L421.89 153.79L421.97 153.90L422.06 153.80L422.15 153.48L422.23 152.94L422.32 152.19L422.40 151.22L422.49 150.04L422.57 148.66L422.66 147.07L422.75 145.29L422.83 143.32L422.92 141.16L423.00 138.84L423.09 136.35L423.18 133.72L423.26 130.94L423.35 128.03L423.43 125.00L423.52 121.86L423.60 118.64L423.69 115.33L423.78 111.96L423.86 108.54L423.95 105.09L424.03 101.61L424.12 98.13L424.21 94.65L424.29 91.20L424.38 87.79L424.46 84.43L424.55 81.14L424.63 77.93L424.72 74.82L424.81 71.81L424.89 68.94L424.98 66.19L425.06 63.60L425.15 61.17L425.23 58.91L425.32 56.83L425.41 54.94L425.49 53.25L425.58 51.77L425.66 50.50L425.75 49.45L425.84 48.63L425.92 48.04L426.01 47.69L426.09 47.57L426.18 47.68L426.26 48.04L426.35 48.63L426.44 49.45L426.52 50.51L426.61 51.79L426.69 53.30L426.78 55.02L426.87 56.96L426.95 59.10L427.04 61.43L427.12 63.94L427.21 66.63L427.29 69.49L427.38 72.49L427.47 75.64L427.55 78.91L427.64 82.29L427.72 85.77L427.81 89.33L427.89 92.96L427.98 96.64L428.07 100.36L428.15 104.10L428.24 107.85L428.32 111.58L428.41 115.29L428.50 118.95L428.58 122.56L428.67 126.09L428.75 129.53L428.84 132.86L428.92 136.08L429.01 139.16L429.10 142.09L429.18 144.87L429.27 147.47L429.35 149.88L429.44 152.10L429.52 154.12L429.61 155.92L429.70 157.50L429.78 158.85L429.87 159.96L429.95 160.83L430.04 161.46L430.13 161.83L430.21 161.96L430.30 161.83L430.38 161.45L430.47 160.82L430.55 159.94L430.64 158.81L430.73 157.44L430.81 155.84L430.90 154.01L430.98 151.95L431.07 149.68L431.16 147.20L431.24 144.53L431.33 141.68L431.41 138.65L431.50 135.47L431.58 132.14L431.67 128.67L431.76 125.10L431.84 121.41L431.93 117.65L432.01 113.81L432.10 109.92L432.18 105.99L432.27 102.04L432.36 98.08L432.44 94.14L432.53 90.23L432.61 86.37L432.70 82.57L432.79 78.85L432.87 75.23L432.96 71.72L433.04 68.34L433.13 65.10L433.21 62.02L433.30 59.10L433.39 56.37L433.47 53.83L433.56 51.50L433.64 49.39L433.73 47.50L433.81 45.84L433.90 44.43L433.99 43.26L434.07 42.35L434.16 41.70L434.24 41.30L434.33 41.18L434.42 41.31L434.50 41.71L434.59 42.37L434.67 43.29L434.76 44.47L434.84 45.90L434.93 47.58L435.02 49.49L435.10 51.64L435.19 54.01L435.27 56.59L435.36 59.38L435.45 62.35L435.53 65.50L435.62 68.82L435.70 72.29L435.79 75.89L435.87 79.62L435.96 83.45L436.05 87.37L436.13 91.35L436.22 95.40L436.30 99.48L436.39 103.58L436.47 107.69L436.56 111.77L436.65 115.83L436.73 119.84L436.82 123.77L436.90 127.63L436.99 131.38L437.08 135.01L437.16 138.52L437.25 141.87L437.33 145.06L437.42 148.08L437.50 150.90L437.59 153.52L437.68 155.93L437.76 158.12L437.85 160.07L437.93 161.78L438.02 163.24L438.11 164.44L438.19 165.38L438.28 166.05L438.36 166.46L438.45 166.59L438.53 166.45L438.62 166.04L438.71 165.36L438.79 164.42L438.88 163.20L438.96 161.73L439.05 160.01L439.13 158.04L439.22 155.84L439.31 153.40L439.39 150.75L439.48 147.90L439.56 144.84L439.65 141.61L439.74 138.21L439.82 134.65L439.91 130.96L439.99 127.15L440.08 123.23L440.16 119.22L440.25 115.13L440.34 111.00L440.42 106.82L440.51 102.63L440.59 98.43L440.68 94.25L440.76 90.11L440.85 86.02L440.94 82.00L441.02 78.07L441.11 74.24L441.19 70.53L441.28 66.96L441.37 63.54L441.45 60.29L441.54 57.22L441.62 54.34L441.71 51.67L441.79 49.22L441.88 46.99L441.97 45.01L442.05 43.27L442.14 41.78L442.22 40.56L442.31 39.60L442.40 38.92L442.48 38.51L442.57 38.37L442.65 38.51L442.74 38.92L442.82 39.61L442.91 40.57L443.00 41.79L443.08 43.28L443.17 45.03L443.25 47.02L443.34 49.25L443.42 51.71L443.51 54.39L443.60 57.28L443.68 60.36L443.77 63.63L443.85 67.06L443.94 70.65L444.03 74.38L444.11 78.23L444.20 82.19L444.28 86.23L444.37 90.35L444.45 94.52L444.54 98.73L444.63 102.95L444.71 107.17L444.80 111.38L444.88 115.55L444.97 119.67L445.05 123.71L445.14 127.67L445.23 131.52L445.31 135.25L445.40 138.84L445.48 142.27L445.57 145.54L445.66 148.62L445.74 151.51L445.83 154.19L445.91 156.65L446.00 158.88L446.08 160.87L446.17 162.62L446.26 164.11L446.34 165.33L446.43 166.29L446.51 166.98L446.60 167.39L446.69 167.53L446.77 167.39L446.86 166.98L446.94 166.30L447.03 165.34L447.11 164.12L447.20 162.63L447.29 160.89L447.37 158.91L447.46 156.68L447.54 154.23L447.63 151.56L447.71 148.68L447.80 145.61L447.89 142.36L447.97 138.94L448.06 135.37L448.14 131.66L448.23 127.83L448.32 123.90L448.40 119.88L448.49 115.79L448.57 111.65L448.66 107.47L448.74 103.27L448.83 99.08L448.92 94.90L449.00 90.77L449.09 86.68L449.17 82.67L449.26 78.75L449.35 74.94L449.43 71.25L449.52 67.69L449.60 64.29L449.69 61.06L449.77 58.00L449.86 55.15L449.95 52.50L450.03 50.06L450.12 47.86L450.20 45.89L450.29 44.17L450.37 42.70L450.46 41.48L450.55 40.54L450.63 39.86L450.72 39.45L450.80 39.31L450.89 39.44L450.98 39.85L451.06 40.52L451.15 41.46L451.23 42.66L451.32 44.12L451.40 45.83L451.49 47.78L451.58 49.97L451.66 52.38L451.75 55.00L451.83 57.82L451.92 60.84L452.00 64.03L452.09 67.38L452.18 70.89L452.26 74.52L452.35 78.27L452.43 82.13L452.52 86.06L452.61 90.07L452.69 94.13L452.78 98.21L452.86 102.32L452.95 106.42L453.03 110.50L453.12 114.55L453.21 118.53L453.29 122.45L453.38 126.28L453.46 130.01L453.55 133.61L453.64 137.08L453.72 140.40L453.81 143.55L453.89 146.52L453.98 149.31L454.06 151.89L454.15 154.26L454.24 156.41L454.32 158.32L454.41 160.00L454.49 161.43L454.58 162.61L454.66 163.53L454.75 164.19L454.84 164.59L454.92 164.72L455.01 164.60L455.09 164.20L455.18 163.55L455.27 162.64L455.35 161.47L455.44 160.06L455.52 158.40L455.61 156.51L455.69 154.40L455.78 152.07L455.87 149.53L455.95 146.80L456.04 143.88L456.12 140.80L456.21 137.56L456.29 134.18L456.38 130.67L456.47 127.05L456.55 123.33L456.64 119.53L456.72 115.67L456.81 111.76L456.90 107.82L456.98 103.86L457.07 99.91L457.15 95.98L457.24 92.09L457.32 88.25L457.41 84.49L457.50 80.80L457.58 77.23L457.67 73.76L457.75 70.43L457.84 67.25L457.93 64.22L458.01 61.37L458.10 58.70L458.18 56.22L458.27 53.95L458.35 51.89L458.44 50.06L458.53 48.46L458.61 47.09L458.70 45.96L458.78 45.08L458.87 44.45L458.95 44.07L459.04 43.94L459.13 44.07L459.21 44.44L459.30 45.07L459.38 45.94L459.47 47.05L459.56 48.40L459.64 49.98L459.73 51.78L459.81 53.80L459.90 56.02L459.98 58.43L460.07 61.03L460.16 63.81L460.24 66.74L460.33 69.82L460.41 73.04L460.50 76.37L460.59 79.81L460.67 83.34L460.76 86.95L460.84 90.61L460.93 94.32L461.01 98.05L461.10 101.80L461.19 105.54L461.27 109.26L461.36 112.94L461.44 116.57L461.53 120.13L461.61 123.61L461.70 126.99L461.79 130.26L461.87 133.41L461.96 136.41L462.04 139.27L462.13 141.96L462.22 144.47L462.30 146.80L462.39 148.94L462.47 150.88L462.56 152.60L462.64 154.11L462.73 155.39L462.82 156.45L462.90 157.27L462.99 157.86L463.07 158.22L463.16 158.33L463.24 158.21L463.33 157.86L463.42 157.27L463.50 156.45L463.59 155.40L463.67 154.13L463.76 152.65L463.85 150.96L463.93 149.07L464.02 146.99L464.10 144.73L464.19 142.30L464.27 139.71L464.36 136.96L464.45 134.09L464.53 131.08L464.62 127.97L464.70 124.76L464.79 121.47L464.88 118.11L464.96 114.70L465.05 111.25L465.13 107.77L465.22 104.29L465.30 100.81L465.39 97.36L465.48 93.94L465.56 90.57L465.65 87.26L465.73 84.04L465.82 80.90L465.90 77.87L465.99 74.96L466.08 72.18L466.16 69.55L466.25 67.06L466.33 64.74L466.42 62.58L466.51 60.61L466.59 58.83L466.68 57.24L466.76 55.86L466.85 54.68L466.93 53.71L467.02 52.96L467.11 52.42L467.19 52.10L467.28 52.00L467.36 52.11L467.45 52.45L467.53 53.00L467.62 53.76L467.71 54.72L467.79 55.89L467.88 57.26L467.96 58.81L468.05 60.55L468.14 62.46L468.22 64.54L468.31 66.77L468.39 69.15L468.48 71.66L468.56 74.30L468.65 77.04L468.74 79.89L468.82 82.82L468.91 85.83L468.99 88.89L469.08 92.01L469.17 95.15L469.25 98.32L469.34 101.49L469.42 104.65L469.51 107.79L469.59 110.90L469.68 113.96L469.77 116.96L469.85 119.88L469.94 122.72L470.02 125.46L470.11 128.10L470.19 130.61L470.28 132.99L470.37 135.24L470.45 137.33L470.54 139.27L470.62 141.04L470.71 142.64L470.80 144.07L470.88 145.31L470.97 146.36L471.05 147.23L471.14 147.90L471.22 148.37L471.31 148.65L471.40 148.73L471.48 148.62L471.57 148.31L471.65 147.81L471.74 147.11L471.83 146.24L471.91 145.18L472.00 143.95L472.08 142.55L472.17 140.98L472.25 139.27L472.34 137.40L472.43 135.40L472.51 133.27L472.60 131.02L472.68 128.66L472.77 126.21L472.85 123.67L472.94 121.06L473.03 118.38L473.11 115.65L473.20 112.88L473.28 110.09L473.37 107.27L473.46 104.46L473.54 101.66L473.63 98.88L473.71 96.13L473.80 93.42L473.88 90.78L473.97 88.19L474.06 85.69L474.14 83.28L474.23 80.96L474.31 78.76L474.40 76.67L474.48 74.70L474.57 72.87L474.66 71.17L474.74 69.63L474.83 68.23L474.91 66.99L475.00 65.92L475.09 65.01L475.17 64.26L475.26 63.69L475.34 63.29L475.43 63.06L475.51 63.00L475.60 63.12L475.69 63.40L475.77 63.85L475.86 64.47L475.94 65.25L476.03 66.18L476.12 67.27L476.20 68.50L476.29 69.87L476.37 71.37L476.46 73.00L476.54 74.74L476.63 76.60L476.72 78.55L476.80 80.60L476.89 82.72L476.97 84.92L477.06 87.18L477.14 89.50L477.23 91.85L477.32 94.23L477.40 96.64L477.49 99.05L477.57 101.47L477.66 103.87L477.75 106.25L477.83 108.60L477.92 110.91L478.00 113.17L478.09 115.37L478.17 117.49L478.26 119.54L478.35 121.51L478.43 123.37L478.52 125.14L478.60 126.80L478.69 128.34L478.77 129.76L478.86 131.06L478.95 132.22L479.03 133.25L479.12 134.14L479.20 134.89L479.29 135.50L479.38 135.96L479.46 136.28L479.55 136.45L479.63 136.48L479.72 136.37L479.80 136.11L479.89 135.71L479.98 135.17L480.06 134.50L480.15 133.70L480.23 132.77L480.32 131.73L480.41 130.57L480.49 129.30L480.58 127.93L480.66 126.46L480.75 124.91L480.83 123.27L480.92 121.57L481.01 119.79L481.09 117.97L481.18 116.09L481.26 114.17L481.35 112.23L481.43 110.26L481.52 108.28L481.61 106.30L481.69 104.31L481.78 102.35L481.86 100.40L481.95 98.48L482.04 96.60L482.12 94.77L482.21 92.99L482.29 91.27L482.38 89.62L482.46 88.04L482.55 86.54L482.64 85.13L482.72 83.80L482.81 82.58L482.89 81.45L482.98 80.43L483.07 79.52L483.15 78.71L483.24 78.02L483.32 77.45L483.41 76.99L483.49 76.65L483.58 76.42L483.67 76.31L483.75 76.32L483.84 76.44L483.92 76.68L484.01 77.02L484.09 77.47L484.18 78.03L484.27 78.69L484.35 79.45L484.44 80.30L484.52 81.24L484.61 82.26L484.70 83.35L484.78 84.52L484.87 85.76L484.95 87.05L485.04 88.40L485.12 89.79L485.21 91.22L485.30 92.69L485.38 94.18L485.47 95.69L485.55 97.22L485.64 98.75L485.72 100.27L485.81 101.79L485.90 103.30L485.98 104.78L486.07 106.23L486.15 107.65L486.24 109.04L486.33 110.37L486.41 111.66L486.50 112.89L486.58 114.06L486.67 115.17L486.75 116.20L486.84 117.17L486.93 118.06L487.01 118.87L487.10 119.59L487.18 120.24L487.27 120.80L487.36 121.28L487.44 121.66L487.53 121.96L487.61 122.18L487.70 122.30L487.78 122.34L487.87 122.30L487.96 122.17L488.04 121.96L488.13 121.66L488.21 121.30L488.30 120.85L488.38 120.34L488.47 119.76L488.56 119.11L488.64 118.41L488.73 117.65L488.81 116.84L488.90 115.98L488.99 115.08L489.07 114.14L489.16 113.17L489.24 112.17L489.33 111.15L489.41 110.11L489.50 109.07L489.59 108.01L489.67 106.95L489.76 105.90L489.84 104.85L489.93 103.81L490.01 102.79L490.10 101.80L490.19 100.83L490.27 99.88L490.36 98.97L490.44 98.10L490.53 97.27L490.62 96.48L490.70 95.74L490.79 95.05L490.87 94.40L490.96 93.81L491.04 93.28L491.13 92.80L491.22 92.38L491.30 92.01L491.39 91.71L491.47 91.46L491.56 91.27L491.65 91.14L491.73 91.06L491.82 91.04L491.90 91.08L491.99 91.17L492.07 91.31L492.16 91.50L492.25 91.73L492.33 92.02L492.42 92.34L492.50 92.71L492.59 93.11L492.67 93.54L492.76 94.01L492.85 94.51L492.93 95.02L493.02 95.56L493.10 96.12L493.19 96.69L493.28 97.27L493.36 97.86L493.45 98.46L493.53 99.05L493.62 99.65L493.70 100.23L493.79 100.81L493.88 101.38L493.96 101.93L494.05 102.47L494.13 102.99L494.22 103.49L494.31 103.96L494.39 104.41L494.48 104.83L494.56 105.22L494.65 105.59L494.73 105.92L494.82 106.22L494.91 106.49L494.99 106.73L495.08 106.93L495.16 107.10L495.25 107.24L495.33 107.34L495.42 107.42L495.51 107.46L495.59 107.47L495.68 107.46L495.76 107.42L495.85 107.35L495.94 107.26L496.02 107.14L496.11 107.00L496.19 106.85L496.28 106.68L496.36 106.49L496.45 106.30L496.54 106.09L496.62 105.87L496.71 105.65L496.79 105.43L496.88 105.20L496.96 104.98L497.05 104.75L497.14 104.54L497.22 104.33L497.31 104.13L497.39 103.94L497.48 103.76L497.57 103.60L497.65 103.45L497.74 103.32L497.82 103.21L497.91 103.12L497.99 103.05L498.08 102.99L498.17 102.96L498.25 102.95L498.34 102.96L498.42 102.99L498.51 103.05L498.60 103.12L498.68 103.21L498.77 103.32L498.85 103.45L498.94 103.60L499.02 103.76L499.11 103.94L499.20 104.13L499.28 104.33L499.37 104.54L499.45 104.75L499.54 104.98L499.62 105.20L499.71 105.43L499.80 105.65L499.88 105.87L499.97 106.09L500.05 106.30L500.14 106.49L500.23 106.68L500.31 106.85L500.40 107.00L500.48 107.14L500.57 107.26L500.65 107.35L500.74 107.42L500.83 107.46L500.91 107.47L501.00 107.46L501.08 107.42L501.17 107.34L501.25 107.24L501.34 107.10L501.43 106.93L501.51 106.73L501.60 106.49L501.68 106.22L501.77 105.92L501.86 105.59L501.94 105.22L502.03 104.83L502.11 104.41L502.20 103.96L502.28 103.49L502.37 102.99L502.46 102.47L502.54 101.93L502.63 101.38L502.71 100.81L502.80 100.23L502.89 99.65L502.97 99.05L503.06 98.46L503.14 97.86L503.23 97.27L503.31 96.69L503.40 96.12L503.49 95.56L503.57 95.02L503.66 94.51L503.74 94.01L503.83 93.54L503.91 93.11L504.00 92.71L504.09 92.34L504.17 92.02L504.26 91.73L504.34 91.50L504.43 91.31L504.52 91.17L504.60 91.08L504.69 91.04L504.77 91.06L504.86 91.14L504.94 91.27L505.03 91.46L505.12 91.71L505.20 92.01L505.29 92.38L505.37 92.80L505.46 93.28L505.55 93.81L505.63 94.40L505.72 95.05L505.80 95.74L505.89 96.48L505.97 97.27L506.06 98.10L506.15 98.97L506.23 99.88L506.32 100.83L506.40 101.80L506.49 102.79L506.57 103.81L506.66 104.85L506.75 105.90L506.83 106.95L506.92 108.01L507.00 109.07L507.09 110.11L507.18 111.15L507.26 112.17L507.35 113.17L507.43 114.14L507.52 115.08L507.60 115.98L507.69 116.84L507.78 117.65L507.86 118.41L507.95 119.11L508.03 119.76L508.12 120.34L508.20 120.85L508.29 121.30L508.38 121.66L508.46 121.96L508.55 122.17L508.63 122.30L508.72 122.34L508.81 122.30L508.89 122.18L508.98 121.96L509.06 121.66L509.15 121.28L509.23 120.80L509.32 120.24L509.41 119.59L509.49 118.87L509.58 118.06L509.66 117.17L509.75 116.20L509.84 115.17L509.92 114.06L510.01 112.89L510.09 111.66L510.18 110.37L510.26 109.04L510.35 107.65L510.44 106.23L510.52 104.78L510.61 103.30L510.69 101.79L510.78 100.27L510.86 98.75L510.95 97.22L511.04 95.69L511.12 94.18L511.21 92.69L511.29 91.22L511.38 89.79L511.47 88.40L511.55 87.05L511.64 85.76L511.72 84.52L511.81 83.35L511.89 82.26L511.98 81.24L512.07 80.30L512.15 79.45L512.24 78.69L512.32 78.03L512.41 77.47L512.49 77.02L512.58 76.68L512.67 76.44L512.75 76.32L512.84 76.31L512.92 76.42L513.01 76.65L513.10 76.99L513.18 77.45L513.27 78.02L513.35 78.71L513.44 79.52L513.52 80.43L513.61 81.45L513.70 82.58L513.78 83.80L513.87 85.13L513.95 86.54L514.04 88.04L514.13 89.62L514.21 91.27L514.30 92.99L514.38 94.77L514.47 96.60L514.55 98.48L514.64 100.40L514.73 102.35L514.81 104.31L514.90 106.30L514.98 108.28L515.07 110.26L515.15 112.23L515.24 114.17L515.33 116.09L515.41 117.97L515.50 119.79L515.58 121.57L515.67 123.27L515.76 124.91L515.84 126.46L515.93 127.93L516.01 129.30L516.10 130.57L516.18 131.73L516.27 132.77L516.36 133.70L516.44 134.50L516.53 135.17L516.61 135.71L516.70 136.11L516.79 136.37L516.87 136.48L516.96 136.45L517.04 136.28L517.13 135.96L517.21 135.50L517.30 134.89L517.39 134.14L517.47 133.25L517.56 132.22L517.64 131.06L517.73 129.76L517.81 128.34L517.90 126.80L517.99 125.14L518.07 123.37L518.16 121.51L518.24 119.54L518.33 117.49L518.42 115.37L518.50 113.17L518.59 110.91L518.67 108.60L518.76 106.25L518.84 103.87L518.93 101.47L519.02 99.05L519.10 96.64L519.19 94.23L519.27 91.85L519.36 89.50L519.44 87.18L519.53 84.92L519.62 82.72L519.70 80.60L519.79 78.55L519.87 76.60L519.96 74.74L520.05 73.00L520.13 71.37L520.22 69.87L520.30 68.50L520.39 67.27L520.47 66.18L520.56 65.25L520.65 64.47L520.73 63.85L520.82 63.40L520.90 63.12L520.99 63.00L521.08 63.06L521.16 63.29L521.25 63.69L521.33 64.26L521.42 65.01L521.50 65.92L521.59 66.99L521.68 68.23L521.76 69.63L521.85 71.17L521.93 72.87L522.02 74.70L522.10 76.67L522.19 78.76L522.28 80.96L522.36 83.28L522.45 85.69L522.53 88.19L522.62 90.78L522.71 93.42L522.79 96.13L522.88 98.88L522.96 101.66L523.05 104.46L523.13 107.27L523.22 110.09L523.31 112.88L523.39 115.65L523.48 118.38L523.56 121.06L523.65 123.67L523.73 126.21L523.82 128.66L523.91 131.02L523.99 133.27L524.08 135.40L524.16 137.40L524.25 139.27L524.34 140.98L524.42 142.55L524.51 143.95L524.59 145.18L524.68 146.24L524.76 147.11L524.85 147.81L524.94 148.31L525.02 148.62L525.11 148.73L525.19 148.65L525.28 148.37L525.37 147.90L525.45 147.23L525.54 146.36L525.62 145.31L525.71 144.07L525.79 142.64L525.88 141.04L525.97 139.27L526.05 137.33L526.14 135.24L526.22 132.99L526.31 130.61L526.39 128.10L526.48 125.46L526.57 122.72L526.65 119.88L526.74 116.96L526.82 113.96L526.91 110.90L527.00 107.79L527.08 104.65L527.17 101.49L527.25 98.32L527.34 95.15L527.42 92.01L527.51 88.89L527.60 85.83L527.68 82.82L527.77 79.89L527.85 77.04L527.94 74.30L528.03 71.66L528.11 69.15L528.20 66.77L528.28 64.54L528.37 62.46L528.45 60.55L528.54 58.81L528.63 57.26L528.71 55.89L528.80 54.72L528.88 53.76L528.97 53.00L529.05 52.45L529.14 52.11L529.23 52.00L529.31 52.10L529.40 52.42L529.48 52.96L529.57 53.71L529.66 54.68L529.74 55.86L529.83 57.24L529.91 58.83L530.00 60.61L530.08 62.58L530.17 64.74L530.26 67.06L530.34 69.55L530.43 72.18L530.51 74.96L530.60 77.87L530.68 80.90L530.77 84.04L530.86 87.26L530.94 90.57L531.03 93.94L531.11 97.36L531.20 100.81L531.29 104.29L531.37 107.77L531.46 111.25L531.54 114.70L531.63 118.11L531.71 121.47L531.80 124.76L531.89 127.97L531.97 131.08L532.06 134.09L532.14 136.96L532.23 139.71L532.32 142.30L532.40 144.73L532.49 146.99L532.57 149.07L532.66 150.96L532.74 152.65L532.83 154.13L532.92 155.40L533.00 156.45L533.09 157.27L533.17 157.86L533.26 158.21L533.34 158.33L533.43 158.22L533.52 157.86L533.60 157.27L533.69 156.45L533.77 155.39L533.86 154.11L533.95 152.60L534.03 150.88L534.12 148.94L534.20 146.80L534.29 144.47L534.37 141.96L534.46 139.27L534.55 136.41L534.63 133.41L534.72 130.26L534.80 126.99L534.89 123.61L534.97 120.13L535.06 116.57L535.15 112.94L535.23 109.26L535.32 105.54L535.40 101.80L535.49 98.05L535.58 94.32L535.66 90.61L535.75 86.95L535.83 83.34L535.92 79.81L536.00 76.37L536.09 73.04L536.18 69.82L536.26 66.74L536.35 63.81L536.43 61.03L536.52 58.43L536.61 56.02L536.69 53.80L536.78 51.78L536.86 49.98L536.95 48.40L537.03 47.05L537.12 45.94L537.21 45.07L537.29 44.44L537.38 44.07L537.46 43.94L537.55 44.07L537.63 44.45L537.72 45.08L537.81 45.96L537.89 47.09L537.98 48.46L538.06 50.06L538.15 51.89L538.24 53.95L538.32 56.22L538.41 58.70L538.49 61.37L538.58 64.22L538.66 67.25L538.75 70.43L538.84 73.76L538.92 77.23L539.01 80.80L539.09 84.49L539.18 88.25L539.27 92.09L539.35 95.98L539.44 99.91L539.52 103.86L539.61 107.82L539.69 111.76L539.78 115.67L539.87 119.53L539.95 123.33L540.04 127.05L540.12 130.67L540.21 134.18L540.29 137.56L540.38 140.80L540.47 143.88L540.55 146.80L540.64 149.53L540.72 152.07L540.81 154.40L540.90 156.51L540.98 158.40L541.07 160.06L541.15 161.47L541.24 162.64L541.32 163.55L541.41 164.20L541.50 164.60L541.58 164.72L541.67 164.59L541.75 164.19L541.84 163.53L541.92 162.61L542.01 161.43L542.10 160.00L542.18 158.32L542.27 156.41L542.35 154.26L542.44 151.89L542.53 149.31L542.61 146.52L542.70 143.55L542.78 140.40L542.87 137.08L542.95 133.61L543.04 130.01L543.13 126.28L543.21 122.45L543.30 118.53L543.38 114.55L543.47 110.50L543.56 106.42L543.64 102.32L543.73 98.21L543.81 94.13L543.90 90.07L543.98 86.06L544.07 82.13L544.16 78.27L544.24 74.52L544.33 70.89L544.41 67.38L544.50 64.03L544.58 60.84L544.67 57.82L544.76 55.00L544.84 52.38L544.93 49.97L545.01 47.78L545.10 45.83L545.19 44.12L545.27 42.66L545.36 41.46L545.44 40.52L545.53 39.85L545.61 39.44L545.70 39.31L545.79 39.45L545.87 39.86L545.96 40.54L546.04 41.48L546.13 42.70L546.21 44.17L546.30 45.89L546.39 47.86L546.47 50.06L546.56 52.50L546.64 55.15L546.73 58.00L546.82 61.06L546.90 64.29L546.99 67.69L547.07 71.25L547.16 74.94L547.24 78.75L547.33 82.67L547.42 86.68L547.50 90.77L547.59 94.90L547.67 99.08L547.76 103.27L547.85 107.47L547.93 111.65L548.02 115.79L548.10 119.88L548.19 123.90L548.27 127.83L548.36 131.66L548.45 135.37L548.53 138.94L548.62 142.36L548.70 145.61L548.79 148.68L548.87 151.56L548.96 154.23L549.05 156.68L549.13 158.91L549.22 160.89L549.30 162.63L549.39 164.12L549.48 165.34L549.56 166.30L549.65 166.98L549.73 167.39L549.82 167.53L549.90 167.39L549.99 166.98L550.08 166.29L550.16 165.33L550.25 164.11L550.33 162.62L550.42 160.87L550.51 158.88L550.59 156.65L550.68 154.19L550.76 151.51L550.85 148.62L550.93 145.54L551.02 142.27L551.11 138.84L551.19 135.25L551.28 131.52L551.36 127.67L551.45 123.71L551.53 119.67L551.62 115.55L551.71 111.38L551.79 107.17L551.88 102.95L551.96 98.73L552.05 94.52L552.14 90.35L552.22 86.23L552.31 82.19L552.39 78.23L552.48 74.38L552.56 70.65L552.65 67.06L552.74 63.63L552.82 60.36L552.91 57.28L552.99 54.39L553.08 51.71L553.16 49.25L553.25 47.02L553.34 45.03L553.42 43.28L553.51 41.79L553.59 40.57L553.68 39.61L553.77 38.92L553.85 38.51L553.94 38.37L554.02 38.51L554.11 38.92L554.19 39.60L554.28 40.56L554.37 41.78L554.45 43.27L554.54 45.01L554.62 46.99L554.71 49.22L554.80 51.67L554.88 54.34L554.97 57.22L555.05 60.29L555.14 63.54L555.22 66.96L555.31 70.53L555.40 74.24L555.48 78.07L555.57 82.00L555.65 86.02L555.74 90.11L555.82 94.25L555.91 98.43L556.00 102.63L556.08 106.82L556.17 111.00L556.25 115.13L556.34 119.22L556.43 123.23L556.51 127.15L556.60 130.96L556.68 134.65L556.77 138.21L556.85 141.61L556.94 144.84L557.03 147.90L557.11 150.75L557.20 153.40L557.28 155.84L557.37 158.04L557.45 160.01L557.54 161.73L557.63 163.20L557.71 164.42L557.80 165.36L557.88 166.04L557.97 166.45L558.06 166.59L558.14 166.46L558.23 166.05L558.31 165.38L558.40 164.44L558.48 163.24L558.57 161.78L558.66 160.07L558.74 158.12L558.83 155.93L558.91 153.52L559.00 150.90L559.09 148.08L559.17 145.06L559.26 141.87L559.34 138.52L559.43 135.01L559.51 131.38L559.60 127.63L559.69 123.77L559.77 119.84L559.86 115.83L559.94 111.77L560.03 107.69L560.11 103.58L560.20 99.48L560.29 95.40L560.37 91.35L560.46 87.37L560.54 83.45L560.63 79.62L560.72 75.89L560.80 72.29L560.89 68.82L560.97 65.50L561.06 62.35L561.14 59.38L561.23 56.59L561.32 54.01L561.40 51.64L561.49 49.49L561.57 47.58L561.66 45.90L561.75 44.47L561.83 43.29L561.92 42.37L562.00 41.71L562.09 41.31L562.17 41.18L562.26 41.30L562.35 41.70L562.43 42.35L562.52 43.26L562.60 44.43L562.69 45.84L562.77 47.50L562.86 49.39L562.95 51.50L563.03 53.83L563.12 56.37L563.20 59.10L563.29 62.02L563.38 65.10L563.46 68.34L563.55 71.72L563.63 75.23L563.72 78.85L563.80 82.57L563.89 86.37L563.98 90.23L564.06 94.14L564.15 98.08L564.23 102.04L564.32 105.99L564.40 109.92L564.49 113.81L564.58 117.65L564.66 121.41L564.75 125.10L564.83 128.67L564.92 132.14L565.01 135.47L565.09 138.65L565.18 141.68L565.26 144.53L565.35 147.20L565.43 149.68L565.52 151.95L565.61 154.01L565.69 155.84L565.78 157.44L565.86 158.81L565.95 159.94L566.04 160.82L566.12 161.45L566.21 161.83L566.29 161.96L566.38 161.83L566.46 161.46L566.55 160.83L566.64 159.96L566.72 158.85L566.81 157.50L566.89 155.92L566.98 154.12L567.06 152.10L567.15 149.88L567.24 147.47L567.32 144.87L567.41 142.09L567.49 139.16L567.58 136.08L567.67 132.86L567.75 129.53L567.84 126.09L567.92 122.56L568.01 118.95L568.09 115.29L568.18 111.58L568.27 107.85L568.35 104.10L568.44 100.36L568.52 96.64L568.61 92.96L568.69 89.33L568.78 85.77L568.87 82.29L568.95 78.91L569.04 75.64L569.12 72.49L569.21 69.49L569.30 66.63L569.38 63.94L569.47 61.43L569.55 59.10L569.64 56.96L569.72 55.02L569.81 53.30L569.90 51.79L569.98 50.51L570.07 49.45L570.15 48.63L570.24 48.04L570.33 47.68L570.41 47.57L570.50 47.69L570.58 48.04L570.67 48.63L570.75 49.45L570.84 50.50L570.93 51.77L571.01 53.25L571.10 54.94L571.18 56.83L571.27 58.91L571.35 61.17L571.44 63.60L571.53 66.19L571.61 68.94L571.70 71.81L571.78 74.82L571.87 77.93L571.96 81.14L572.04 84.43L572.13 87.79L572.21 91.20L572.30 94.65L572.38 98.13L572.47 101.61L572.56 105.09L572.64 108.54L572.73 111.96L572.81 115.33L572.90 118.64L572.99 121.86L573.07 125.00L573.16 128.03L573.24 130.94L573.33 133.72L573.41 136.35L573.50 138.84L573.59 141.16L573.67 143.32L573.76 145.29L573.84 147.07L573.93 148.66L574.01 150.04L574.10 151.22L574.19 152.19L574.27 152.94L574.36 153.48L574.44 153.80L574.53 153.90L574.62 153.79L574.70 153.45L574.79 152.90L574.87 152.14L574.96 151.18L575.04 150.01L575.13 148.64L575.22 147.09L575.30 145.35L575.39 143.44L575.47 141.36L575.56 139.13L575.64 136.75L575.73 134.24L575.82 131.60L575.90 128.86L575.99 126.01L576.07 123.08L576.16 120.07L576.25 117.01L576.33 113.89L576.42 110.75L576.50 107.58L576.59 104.41L576.67 101.25L576.76 98.11L576.85 95.00L576.93 91.94L577.02 88.94L577.10 86.02L577.19 83.18L577.28 80.44L577.36 77.80L577.45 75.29L577.53 72.91L577.62 70.66L577.70 68.57L577.79 66.63L577.88 64.86L577.96 63.26L578.05 61.83L578.13 60.59L578.22 59.54L578.30 58.67L578.39 58.00L578.48 57.53L578.56 57.25L578.65 57.17L578.73 57.28L578.82 57.59L578.91 58.09L578.99 58.79L579.08 59.66L579.16 60.72L579.25 61.95L579.33 63.35L579.42 64.92L579.51 66.63L579.59 68.50L579.68 70.50L579.76 72.63L579.85 74.88L579.93 77.24L580.02 79.69L580.11 82.23L580.19 84.84L580.28 87.52L580.36 90.25L580.45 93.02L580.54 95.81L580.62 98.63L580.71 101.44L580.79 104.24L580.88 107.02L580.96 109.77L581.05 112.48L581.14 115.12L581.22 117.71L581.31 120.21L581.39 122.62L581.48 124.94L581.57 127.14L581.65 129.23L581.74 131.20L581.82 133.03L581.91 134.73L581.99 136.27L582.08 137.67L582.17 138.91L582.25 139.98L582.34 140.89L582.42 141.64L582.51 142.21L582.59 142.61L582.68 142.84L582.77 142.90L582.85 142.78L582.94 142.50L583.02 142.05L583.11 141.43L583.20 140.65L583.28 139.72L583.37 138.63L583.45 137.40L583.54 136.03L583.62 134.53L583.71 132.90L583.80 131.16L583.88 129.30L583.97 127.35L584.05 125.30L584.14 123.18L584.23 120.98L584.31 118.72L584.40 116.40L584.48 114.05L584.57 111.67L584.65 109.26L584.74 106.85L584.83 104.43L584.91 102.03L585.00 99.65L585.08 97.30L585.17 94.99L585.25 92.73L585.34 90.53L585.43 88.41L585.51 86.36L585.60 84.39L585.68 82.53L585.77 80.76L585.86 79.10L585.94 77.56L586.03 76.14L586.11 74.84L586.20 73.68L586.28 72.65L586.37 71.76L586.46 71.01L586.54 70.40L586.63 69.94L586.71 69.62L586.80 69.45L586.88 69.42L586.97 69.53L587.06 69.79L587.14 70.19L587.23 70.73L587.31 71.40L587.40 72.20L587.49 73.13L587.57 74.17L587.66 75.33L587.74 76.60L587.83 77.97L587.91 79.44L588.00 80.99L588.09 82.63L588.17 84.33L588.26 86.11L588.34 87.93L588.43 89.81L588.52 91.73L588.60 93.67L588.69 95.64L588.77 97.62L588.86 99.60L588.94 101.59L589.03 103.55L589.12 105.50L589.20 107.42L589.29 109.30L589.37 111.13L589.46 112.91L589.54 114.63L589.63 116.28L589.72 117.86L589.80 119.36L589.89 120.77L589.97 122.10L590.06 123.32L590.15 124.45L590.23 125.47L590.32 126.38L590.40 127.19L590.49 127.88L590.57 128.45L590.66 128.91L590.75 129.25L590.83 129.48L590.92 129.59L591.00 129.58L591.09 129.46L591.17 129.22L591.26 128.88L591.35 128.43L591.43 127.87L591.52 127.21L591.60 126.45L591.69 125.60L591.78 124.66L591.86 123.64L591.95 122.55L592.03 121.38L592.12 120.14L592.20 118.85L592.29 117.50L592.38 116.11L592.46 114.68L592.55 113.21L592.63 111.72L592.72 110.21L592.81 108.68L592.89 107.15L592.98 105.63L593.06 104.11L593.15 102.60L593.23 101.12L593.32 99.67L593.41 98.25L593.49 96.86L593.58 95.53L593.66 94.24L593.75 93.01L593.83 91.84L593.92 90.73L594.01 89.70L594.09 88.73L594.18 87.84L594.26 87.03L594.35 86.31L594.44 85.66L594.52 85.10L594.61 84.62L594.69 84.24L594.78 83.94L594.86 83.72L594.95 83.60L595.04 83.56L595.12 83.60L595.21 83.73L595.29 83.94L595.38 84.24L595.47 84.60L595.55 85.05L595.64 85.56L595.72 86.14L595.81 86.79L595.89 87.49L595.98 88.25L596.07 89.06L596.15 89.92L596.24 90.82L596.32 91.76L596.41 92.73L596.49 93.73L596.58 94.75L596.67 95.79L596.75 96.83L596.84 97.89L596.92 98.95L597.01 100.00L597.10 101.05L597.18 102.09L597.27 103.11L597.35 104.10L597.44 105.07L597.52 106.02L597.61 106.93L597.70 107.80L597.78 108.63L597.87 109.42L597.95 110.16L598.04 110.85L598.12 111.50L598.21 112.09L598.30 112.62L598.38 113.10L598.47 113.52L598.55 113.89L598.64 114.19L598.73 114.44L598.81 114.63L598.90 114.76L598.98 114.84L599.07 114.86L599.15 114.82L599.24 114.73L599.33 114.59L599.41 114.40L599.50 114.17L599.58 113.88L599.67 113.56L599.76 113.19L599.84 112.79L599.93 112.36L600.01 111.89L600.10 111.39L600.18 110.88L600.27 110.34L600.36 109.78L600.44 109.21L600.53 108.63L600.61 108.04L600.70 107.44L600.78 106.85L600.87 106.25L600.96 105.67L601.04 105.09L601.13 104.52L601.21 103.97L601.30 103.43L601.39 102.91L601.47 102.41L601.56 101.94L601.64 101.49L601.73 101.07L601.81 100.68L601.90 100.31L601.99 99.98L602.07 99.68L602.16 99.41L602.24 99.17L602.33 98.97L602.41 98.80L602.50 98.66L602.59 98.56L602.67 98.48L602.76 98.44L602.84 98.43L602.93 98.44L603.02 98.48L603.10 98.55L603.19 98.64L603.27 98.76L603.36 98.90L603.44 99.05L603.53 99.22L603.62 99.41L603.70 99.60L603.79 99.81L603.87 100.03L603.96 100.25L604.05 100.47L604.13 100.70L604.22 100.92L604.30 101.15L604.39 101.36L604.47 101.57L604.56 101.77L604.65 101.96L604.73 102.14L604.82 102.30L604.90 102.45L604.99 102.58L605.07 102.69L605.16 102.78L605.25 102.85L605.33 102.91L605.42 102.94L605.50 102.95L605.59 102.94L605.68 102.91L605.76 102.85L605.85 102.78L605.93 102.69L606.02 102.58L606.10 102.45L606.19 102.30L606.28 102.14L606.36 101.96L606.45 101.77L606.53 101.57L606.62 101.36L606.71 101.15L606.79 100.92L606.88 100.70L606.96 100.47L607.05 100.25L607.13 100.03L607.22 99.81L607.31 99.60L607.39 99.41L607.48 99.22L607.56 99.05L607.65 98.90L607.73 98.76L607.82 98.64L607.91 98.55L607.99 98.48L608.08 98.44L608.16 98.43L608.25 98.44L608.34 98.48L608.42 98.56L608.51 98.66L608.59 98.80L608.68 98.97L608.76 99.17L608.85 99.41L608.94 99.68L609.02 99.98L609.11 100.31L609.19 100.68L609.28 101.07L609.36 101.49L609.45 101.94L609.54 102.41L609.62 102.91L609.71 103.43L609.79 103.97L609.88 104.52L609.97 105.09L610.05 105.67L610.14 106.25L610.22 106.85L610.31 107.44L610.39 108.04L610.48 108.63L610.57 109.21L610.65 109.78L610.74 110.34L610.82 110.88L610.91 111.39L611.00 111.89L611.08 112.36L611.17 112.79L611.25 113.19L611.34 113.56L611.42 113.88L611.51 114.17L611.60 114.40L611.68 114.59L611.77 114.73L611.85 114.82L611.94 114.86L612.02 114.84L612.11 114.76L612.20 114.63L612.28 114.44L612.37 114.19L612.45 113.89L612.54 113.52L612.63 113.10L612.71 112.62L612.80 112.09L612.88 111.50L612.97 110.85L613.05 110.16L613.14 109.42L613.23 108.63L613.31 107.80L613.40 106.93L613.48 106.02L613.57 105.07L613.65 104.10L613.74 103.11L613.83 102.09L613.91 101.05L614.00 100.00L614.08 98.95L614.17 97.89L614.26 96.83L614.34 95.79L614.43 94.75L614.51 93.73L614.60 92.73L614.68 91.76L614.77 90.82L614.86 89.92L614.94 89.06L615.03 88.25L615.11 87.49L615.20 86.79L615.29 86.14L615.37 85.56L615.46 85.05L615.54 84.60L615.63 84.24L615.71 83.94L615.80 83.73L615.89 83.60L615.97 83.56L616.06 83.60L616.14 83.72L616.23 83.94L616.31 84.24L616.40 84.62L616.49 85.10L616.57 85.66L616.66 86.31L616.74 87.03L616.83 87.84L616.92 88.73L617.00 89.70L617.09 90.73L617.17 91.84L617.26 93.01L617.34 94.24L617.43 95.53L617.52 96.86L617.60 98.25L617.69 99.67L617.77 101.12L617.86 102.60L617.95 104.11L618.03 105.63L618.12 107.15L618.20 108.68L618.29 110.21L618.37 111.72L618.46 113.21L618.55 114.68L618.63 116.11L618.72 117.50L618.80 118.85L618.89 120.14L618.97 121.38L619.06 122.55L619.15 123.64L619.23 124.66L619.32 125.60L619.40 126.45L619.49 127.21L619.58 127.87L619.66 128.43L619.75 128.88L619.83 129.22L619.92 129.46L620.00 129.58L620.09 129.59L620.18 129.48L620.26 129.25L620.35 128.91L620.43 128.45L620.52 127.88L620.60 127.19L620.69 126.38L620.78 125.47L620.86 124.45L620.95 123.32L621.03 122.10L621.12 120.77L621.21 119.36L621.29 117.86L621.38 116.28L621.46 114.63L621.55 112.91L621.63 111.13L621.72 109.30L621.81 107.42L621.89 105.50L621.98 103.55L622.06 101.59L622.15 99.60L622.24 97.62L622.32 95.64L622.41 93.67L622.49 91.73L622.58 89.81L622.66 87.93L622.75 86.11L622.84 84.33L622.92 82.63L623.01 80.99L623.09 79.44L623.18 77.97L623.26 76.60L623.35 75.33L623.44 74.17L623.52 73.13L623.61 72.20L623.69 71.40L623.78 70.73L623.87 70.19L623.95 69.79L624.04 69.53L624.12 69.42L624.21 69.45L624.29 69.62L624.38 69.94L624.47 70.40L624.55 71.01L624.64 71.76L624.72 72.65L624.81 73.68L624.89 74.84L624.98 76.14L625.07 77.56L625.15 79.10L625.24 80.76L625.32 82.53L625.41 84.39L625.50 86.36L625.58 88.41L625.67 90.53L625.75 92.73L625.84 94.99L625.92 97.30L626.01 99.65L626.10 102.03L626.18 104.43L626.27 106.85L626.35 109.26L626.44 111.67L626.53 114.05L626.61 116.40L626.70 118.72L626.78 120.98L626.87 123.18L626.95 125.30L627.04 127.35L627.13 129.30L627.21 131.16L627.30 132.90L627.38 134.53L627.47 136.03L627.55 137.40L627.64 138.63L627.73 139.72L627.81 140.65L627.90 141.43L627.98 142.05L628.07 142.50L628.16 142.78L628.24 142.90L628.33 142.84L628.41 142.61L628.50 142.21L628.58 141.64L628.67 140.89L628.76 139.98L628.84 138.91L628.93 137.67L629.01 136.27L629.10 134.73L629.19 133.03L629.27 131.20L629.36 129.23L629.44 127.14L629.53 124.94L629.61 122.62L629.70 120.21L629.79 117.71L629.87 115.12L629.96 112.48L630.04 109.77L630.13 107.02L630.21 104.24L630.30 101.44L630.39 98.63L630.47 95.81L630.56 93.02L630.64 90.25L630.73 87.52L630.82 84.84L630.90 82.23L630.99 79.69L631.07 77.24L631.16 74.88L631.24 72.63L631.33 70.50L631.42 68.50L631.50 66.63L631.59 64.92L631.67 63.35L631.76 61.95L631.84 60.72L631.93 59.66L632.02 58.79L632.10 58.09L632.19 57.59L632.27 57.28L632.36 57.17L632.45 57.25L632.53 57.53L632.62 58.00L632.70 58.67L632.79 59.54L632.87 60.59L632.96 61.83L633.05 63.26L633.13 64.86L633.22 66.63L633.30 68.57L633.39 70.66L633.48 72.91L633.56 75.29L633.65 77.80L633.73 80.44L633.82 83.18L633.90 86.02L633.99 88.94L634.08 91.94L634.16 95.00L634.25 98.11L634.33 101.25L634.42 104.41L634.50 107.58L634.59 110.75L634.68 113.89L634.76 117.01L634.85 120.07L634.93 123.08L635.02 126.01L635.11 128.86L635.19 131.60L635.28 134.24L635.36 136.75L635.45 139.13L635.53 141.36L635.62 143.44L635.71 145.35L635.79 147.09L635.88 148.64L635.96 150.01L636.05 151.18L636.13 152.14L636.22 152.90L636.31 153.45L636.39 153.79L636.48 153.90L636.56 153.80L636.65 153.48L636.74 152.94L636.82 152.19L636.91 151.22L636.99 150.04L637.08 148.66L637.16 147.07L637.25 145.29L637.34 143.32L637.42 141.16L637.51 138.84L637.59 136.35L637.68 133.72L637.77 130.94L637.85 128.03L637.94 125.00L638.02 121.86L638.11 118.64L638.19 115.33L638.28 111.96L638.37 108.54L638.45 105.09L638.54 101.61L638.62 98.13L638.71 94.65L638.79 91.20L638.88 87.79L638.97 84.43L639.05 81.14L639.14 77.93L639.22 74.82L639.31 71.81L639.40 68.94L639.48 66.19L639.57 63.60L639.65 61.17L639.74 58.91L639.82 56.83L639.91 54.94L640.00 53.25L640.08 51.77L640.17 50.50L640.25 49.45L640.34 48.63L640.43 48.04L640.51 47.69L640.60 47.57L640.68 47.68L640.77 48.04L640.85 48.63L640.94 49.45L641.03 50.51L641.11 51.79L641.20 53.30L641.28 55.02L641.37 56.96L641.45 59.10L641.54 61.43L641.63 63.94L641.71 66.63L641.80 69.49L641.88 72.49L641.97 75.64L642.06 78.91L642.14 82.29L642.23 85.77L642.31 89.33L642.40 92.96L642.48 96.64L642.57 100.36L642.66 104.10L642.74 107.85L642.83 111.58L642.91 115.29L643.00 118.95L643.08 122.56L643.17 126.09L643.26 129.53L643.34 132.86L643.43 136.08L643.51 139.16L643.60 142.09L643.69 144.87L643.77 147.47L643.86 149.88L643.94 152.10L644.03 154.12L644.11 155.92L644.20 157.50L644.29 158.85L644.37 159.96L644.46 160.83L644.54 161.46L644.63 161.83L644.72 161.96L644.80 161.83L644.89 161.45L644.97 160.82L645.06 159.94L645.14 158.81L645.23 157.44L645.32 155.84L645.40 154.01L645.49 151.95L645.57 149.68L645.66 147.20L645.74 144.53L645.83 141.68L645.92 138.65L646.00 135.47L646.09 132.14L646.17 128.67L646.26 125.10L646.35 121.41L646.43 117.65L646.52 113.81L646.60 109.92L646.69 105.99L646.77 102.04L646.86 98.08L646.95 94.14L647.03 90.23L647.12 86.37L647.20 82.57L647.29 78.85L647.37 75.23L647.46 71.72L647.55 68.34L647.63 65.10L647.72 62.02L647.80 59.10L647.89 56.37L647.98 53.83L648.06 51.50L648.15 49.39L648.23 47.50L648.32 45.84L648.40 44.43L648.49 43.26L648.58 42.35L648.66 41.70L648.75 41.30L648.83 41.18L648.92 41.31L649.01 41.71L649.09 42.37L649.18 43.29L649.26 44.47L649.35 45.90L649.43 47.58L649.52 49.49L649.61 51.64L649.69 54.01L649.78 56.59L649.86 59.38L649.95 62.35L650.03 65.50L650.12 68.82L650.21 72.29L650.29 75.89L650.38 79.62L650.46 83.45L650.55 87.37L650.64 91.35L650.72 95.40L650.81 99.48L650.89 103.58L650.98 107.69L651.06 111.77L651.15 115.83L651.24 119.84L651.32 123.77L651.41 127.63L651.49 131.38L651.58 135.01L651.67 138.52L651.75 141.87L651.84 145.06L651.92 148.08L652.01 150.90L652.09 153.52L652.18 155.93L652.27 158.12L652.35 160.07L652.44 161.78L652.52 163.24L652.61 164.44L652.69 165.38L652.78 166.05L652.87 166.46L652.95 166.59L653.04 166.45L653.12 166.04L653.21 165.36L653.30 164.42L653.38 163.20L653.47 161.73L653.55 160.01L653.64 158.04L653.72 155.84L653.81 153.40L653.90 150.75L653.98 147.90L654.07 144.84L654.15 141.61L654.24 138.21L654.32 134.65L654.41 130.96L654.50 127.15L654.58 123.23L654.67 119.22L654.75 115.13L654.84 111.00L654.93 106.82L655.01 102.63L655.10 98.43L655.18 94.25L655.27 90.11L655.35 86.02L655.44 82.00L655.53 78.07L655.61 74.24L655.70 70.53L655.78 66.96L655.87 63.54L655.96 60.29L656.04 57.22L656.13 54.34L656.21 51.67L656.30 49.22L656.38 46.99L656.47 45.01L656.56 43.27L656.64 41.78L656.73 40.56L656.81 39.60L656.90 38.92L656.98 38.51L657.07 38.37L657.16 38.51L657.24 38.92L657.33 39.61L657.41 40.57L657.50 41.79L657.59 43.28L657.67 45.03L657.76 47.02L657.84 49.25L657.93 51.71L658.01 54.39L658.10 57.28L658.19 60.36L658.27 63.63L658.36 67.06L658.44 70.65L658.53 74.38L658.61 78.23L658.70 82.19L658.79 86.23L658.87 90.35L658.96 94.52L659.04 98.73L659.13 102.95L659.22 107.17L659.30 111.38L659.39 115.55L659.47 119.67L659.56 123.71L659.64 127.67L659.73 131.52L659.82 135.25L659.90 138.84L659.99 142.27L660.07 145.54L660.16 148.62L660.25 151.51L660.33 154.19L660.42 156.65L660.50 158.88L660.59 160.87L660.67 162.62L660.76 164.11L660.85 165.33L660.93 166.29L661.02 166.98L661.10 167.39L661.19 167.53L661.27 167.39L661.36 166.98L661.45 166.30L661.53 165.34L661.62 164.12L661.70 162.63L661.79 160.89L661.88 158.91L661.96 156.68L662.05 154.23L662.13 151.56L662.22 148.68L662.30 145.61L662.39 142.36L662.48 138.94L662.56 135.37L662.65 131.66L662.73 127.83L662.82 123.90L662.91 119.88L662.99 115.79L663.08 111.65L663.16 107.47L663.25 103.27L663.33 99.08L663.42 94.90L663.51 90.77L663.59 86.68L663.68 82.67L663.76 78.75L663.85 74.94L663.93 71.25L664.02 67.69L664.11 64.29L664.19 61.06L664.28 58.00L664.36 55.15L664.45 52.50L664.54 50.06L664.62 47.86L664.71 45.89L664.79 44.17L664.88 42.70L664.96 41.48L665.05 40.54L665.14 39.86L665.22 39.45L665.31 39.31L665.39 39.44L665.48 39.85L665.56 40.52L665.65 41.46L665.74 42.66L665.82 44.12L665.91 45.83L665.99 47.78L666.08 49.97L666.17 52.38L666.25 55.00L666.34 57.82L666.42 60.84L666.51 64.03L666.59 67.38L666.68 70.89L666.77 74.52L666.85 78.27L666.94 82.13L667.02 86.06L667.11 90.07L667.20 94.13L667.28 98.21L667.37 102.32L667.45 106.42L667.54 110.50L667.62 114.55L667.71 118.53L667.80 122.45L667.88 126.28L667.97 130.01L668.05 133.61L668.14 137.08L668.22 140.40L668.31 143.55L668.40 146.52L668.48 149.31L668.57 151.89L668.65 154.26L668.74 156.41L668.83 158.32L668.91 160.00L669.00 161.43L669.08 162.61L669.17 163.53L669.25 164.19L669.34 164.59L669.43 164.72L669.51 164.60L669.60 164.20L669.68 163.55L669.77 162.64L669.85 161.47L669.94 160.06L670.03 158.40L670.11 156.51L670.20 154.40L670.28 152.07L670.37 149.53L670.46 146.80L670.54 143.88L670.63 140.80L670.71 137.56L670.80 134.18L670.88 130.67L670.97 127.05L671.06 123.33L671.14 119.53L671.23 115.67L671.31 111.76L671.40 107.82L671.49 103.86L671.57 99.91L671.66 95.98L671.74 92.09L671.83 88.25L671.91 84.49L672.00 80.80" fill="none" stroke="#000" stroke-width="1.9" stroke-linecap="butt" stroke-linejoin="round"/>
<path d="M391.00 4.95L391.00 200.95M390.05 200.00L672.00 200.00M391.00 200.00L383.70 200.00M391.00 193.53L387.30 193.53M391.00 187.06L387.30 187.06M391.00 180.59L387.30 180.59M391.00 174.12L387.30 174.12M391.00 167.65L383.70 167.65M391.00 161.18L387.30 161.18M391.00 154.71L387.30 154.71M391.00 148.24L387.30 148.24M391.00 141.77L387.30 141.77M391.00 135.30L383.70 135.30M391.00 128.83L387.30 128.83M391.00 122.36L387.30 122.36M391.00 115.89L387.30 115.89M391.00 109.42L387.30 109.42M391.00 102.95L383.70 102.95M391.00 96.48L387.30 96.48M391.00 90.01L387.30 90.01M391.00 83.54L387.30 83.54M391.00 77.07L387.30 77.07M391.00 70.60L383.70 70.60M391.00 64.13L387.30 64.13M391.00 57.66L387.30 57.66M391.00 51.19L387.30 51.19M391.00 44.72L387.30 44.72M391.00 38.25L383.70 38.25M391.00 31.78L387.30 31.78M391.00 25.31L387.30 25.31M391.00 18.84L387.30 18.84M391.00 12.37L387.30 12.37M391.00 5.90L383.70 5.90M391.00 200.00L391.00 204.90M412.45 200.00L412.45 202.40M433.90 200.00L433.90 202.40M455.35 200.00L455.35 202.40M476.80 200.00L476.80 204.90M498.25 200.00L498.25 202.40M519.70 200.00L519.70 202.40M541.15 200.00L541.15 202.40M562.60 200.00L562.60 204.90M584.05 200.00L584.05 202.40M605.50 200.00L605.50 202.40M626.95 200.00L626.95 202.40M648.40 200.00L648.40 204.90M669.85 200.00L669.85 202.40" fill="none" stroke="#000" stroke-width="1.9" stroke-linecap="butt" stroke-linejoin="miter"/>
<path d="M389.85 218.44L388.19 219.00L387.09 220.70L386.54 223.52L386.54 225.22L387.09 228.04L388.19 229.74L389.85 230.30L390.95 230.30L392.61 229.74L393.71 228.04L394.26 225.22L394.26 223.52L393.71 220.70L392.61 219.00L390.95 218.44L389.85 218.44" fill="none" stroke="#000" stroke-width="2.05" stroke-linecap="round" stroke-linejoin="round"/>
<path d="M456.33 221.26L456.33 220.70L456.88 219.56L457.43 219.00L458.54 218.44L460.75 218.44L461.85 219.00L462.40 219.56L462.95 220.70L462.95 221.83L462.40 222.96L461.30 224.65L455.78 230.30L463.51 230.30M470.13 218.44L468.47 219.00L467.37 220.70L466.82 223.52L466.82 225.22L467.37 228.04L468.47 229.74L470.13 230.30L471.23 230.30L472.89 229.74L473.99 228.04L474.55 225.22L474.55 223.52L473.99 220.70L472.89 219.00L471.23 218.44L470.13 218.44M481.17 218.44L479.51 219.00L478.41 220.70L477.86 223.52L477.86 225.22L478.41 228.04L479.51 229.74L481.17 230.30L482.27 230.30L483.93 229.74L485.03 228.04L485.59 225.22L485.59 223.52L485.03 220.70L483.93 219.00L482.27 218.44L481.17 218.44M492.21 218.44L490.55 219.00L489.45 220.70L488.90 223.52L488.90 225.22L489.45 228.04L490.55 229.74L492.21 230.30L493.31 230.30L494.97 229.74L496.07 228.04L496.63 225.22L496.63 223.52L496.07 220.70L494.97 219.00L493.31 218.44L492.21 218.44" fill="none" stroke="#000" stroke-width="2.05" stroke-linecap="round" stroke-linejoin="round"/>
<path d="M547.10 218.44L541.58 226.34L549.86 226.34M547.10 218.44L547.10 230.30M555.93 218.44L554.28 219.00L553.17 220.70L552.62 223.52L552.62 225.22L553.17 228.04L554.28 229.74L555.93 230.30L557.04 230.30L558.69 229.74L559.80 228.04L560.35 225.22L560.35 223.52L559.80 220.70L558.69 219.00L557.04 218.44L555.93 218.44M566.97 218.44L565.32 219.00L564.21 220.70L563.66 223.52L563.66 225.22L564.21 228.04L565.32 229.74L566.97 230.30L568.08 230.30L569.73 229.74L570.84 228.04L571.39 225.22L571.39 223.52L570.84 220.70L569.73 219.00L568.08 218.44L566.97 218.44M578.01 218.44L576.36 219.00L575.25 220.70L574.70 223.52L574.70 225.22L575.25 228.04L576.36 229.74L578.01 230.30L579.12 230.30L580.77 229.74L581.88 228.04L582.43 225.22L582.43 223.52L581.88 220.70L580.77 219.00L579.12 218.44L578.01 218.44" fill="none" stroke="#000" stroke-width="2.05" stroke-linecap="round" stroke-linejoin="round"/>
<path d="M634.56 220.13L634.00 219.00L632.35 218.44L631.24 218.44L629.59 219.00L628.48 220.70L627.93 223.52L627.93 226.34L628.48 228.61L629.59 229.74L631.24 230.30L631.80 230.30L633.45 229.74L634.56 228.61L635.11 226.91L635.11 226.34L634.56 224.65L633.45 223.52L631.80 222.96L631.24 222.96L629.59 223.52L628.48 224.65L627.93 226.34M641.73 218.44L640.08 219.00L638.97 220.70L638.42 223.52L638.42 225.22L638.97 228.04L640.08 229.74L641.73 230.30L642.84 230.30L644.49 229.74L645.60 228.04L646.15 225.22L646.15 223.52L645.60 220.70L644.49 219.00L642.84 218.44L641.73 218.44M652.77 218.44L651.12 219.00L650.01 220.70L649.46 223.52L649.46 225.22L650.01 228.04L651.12 229.74L652.77 230.30L653.88 230.30L655.53 229.74L656.64 228.04L657.19 225.22L657.19 223.52L656.64 220.70L655.53 219.00L653.88 218.44L652.77 218.44M663.81 218.44L662.16 219.00L661.05 220.70L660.50 223.52L660.50 225.22L661.05 228.04L662.16 229.74L663.81 230.30L664.92 230.30L666.57 229.74L667.68 228.04L668.23 225.22L668.23 223.52L667.68 220.70L666.57 219.00L664.92 218.44L663.81 218.44" fill="none" stroke="#000" stroke-width="2.05" stroke-linecap="round" stroke-linejoin="round"/>
<path d="M498.51 240.13L498.51 251.20M494.64 240.13L502.37 240.13M504.58 239.61L505.13 240.13L505.68 239.61L505.13 239.08L504.58 239.61M505.13 243.82L505.13 251.20M509.55 243.82L509.55 251.20M509.55 245.93L511.20 244.35L512.31 243.82L513.96 243.82L515.07 244.35L515.62 245.93L515.62 251.20M515.62 245.93L517.28 244.35L518.38 243.82L520.04 243.82L521.14 244.35L521.69 245.93L521.69 251.20M525.56 246.98L532.18 246.98L532.18 245.93L531.63 244.88L531.08 244.35L529.97 243.82L528.32 243.82L527.21 244.35L526.11 245.40L525.56 246.98L525.56 248.04L526.11 249.62L527.21 250.67L528.32 251.20L529.97 251.20L531.08 250.67L532.18 249.62M548.74 238.02L547.64 239.08L546.53 240.66L545.43 242.77L544.88 245.40L544.88 247.51L545.43 250.15L546.53 252.25L547.64 253.83L548.74 254.89M558.12 245.40L557.57 244.35L555.92 243.82L554.26 243.82L552.60 244.35L552.05 245.40L552.60 246.46L553.71 246.98L556.47 247.51L557.57 248.04L558.12 249.09L558.12 249.62L557.57 250.67L555.92 251.20L554.26 251.20L552.60 250.67L552.05 249.62M561.44 238.02L562.54 239.08L563.64 240.66L564.75 242.77L565.30 245.40L565.30 247.51L564.75 250.15L563.64 252.25L562.54 253.83L561.44 254.89" fill="none" stroke="#000" stroke-width="2.05" stroke-linecap="round" stroke-linejoin="round"/>
<clipPath id="cl"><rect x="86.00" y="274.90" width="281.00" height="236.25"/></clipPath>
<clipPath id="cr"><rect x="391.00" y="274.90" width="281.00" height="236.25"/></clipPath>
<path d="M75.22 477.02L94.03 476.52L110.33 475.65L124.70 475.04L137.56 473.84L149.19 473.11L159.81 471.54L169.58 470.71L178.62 468.68L187.04 467.76L194.92 465.16L202.32 464.17L209.29 460.87L215.89 459.80L222.15 455.58L228.11 454.47L233.78 449.01L239.21 447.87L244.40 440.63L249.38 439.51L254.17 429.52L258.77 428.44L263.21 413.63L267.50 412.56L271.63 387.30L275.63 384.38L279.51 320.13L283.26 307.94L286.91 315.96L290.44 308.16L293.88 316.09L297.23 370.68L300.48 395.03L303.65 408.83L306.74 424.17L309.75 430.28L312.69 442.31L315.57 445.58L318.37 455.71L321.11 457.62L323.80 466.47L326.42 467.60L328.99 475.52L331.51 476.16L333.97 483.37L336.39 483.68L338.76 490.32L341.08 490.39L343.36 496.57L345.60 496.46L347.80 502.26L349.96 502.01L352.08 507.48L354.17 507.12L356.22 512.31L358.24 511.87L360.22 516.80L362.18 516.29L364.10 521.00L365.99 520.44L367.85 524.95L369.69 524.34L371.50 528.67L373.28 528.02L375.03 532.20L376.77 531.51L378.47 535.54L380.16 534.82L381.82 538.71L383.45 537.98L385.07 541.74L386.67 540.99L388.24 544.64L389.79 543.87" fill="none" stroke="#FF0000" stroke-width="1.85" stroke-linecap="butt" stroke-linejoin="round" clip-path="url(#cl)"/>
<path d="M75.22 477.02L110.33 475.65L137.56 473.84L159.81 471.54L178.62 468.68L194.92 465.16L209.29 460.87L222.15 455.58L233.78 449.01L244.40 440.63L254.17 429.52L263.21 413.63L271.63 387.30L279.51 320.13L286.91 315.96L293.88 316.09L300.48 395.03L306.74 424.17L312.69 442.31L318.37 455.71L323.80 466.47L328.99 475.52L333.97 483.37L338.76 490.32L343.36 496.57L347.80 502.26L352.08 507.48L356.22 512.31L360.22 516.80L364.10 521.00L367.85 524.95L371.50 528.67L375.03 532.20L378.47 535.54L381.82 538.71L385.07 541.74L388.24 544.64" fill="none" stroke="#000" stroke-width="1.9" stroke-linecap="butt" stroke-linejoin="round" clip-path="url(#cl)"/>
<path d="M86.00 278.95L86.00 512.10M85.05 511.15L367.95 511.15M86.00 511.15L78.70 511.15M86.00 493.75L82.40 493.75M86.00 483.57L82.40 483.57M86.00 476.34L82.40 476.34M86.00 470.74L82.40 470.74M86.00 466.16L82.40 466.16M86.00 462.29L82.40 462.29M86.00 458.94L82.40 458.94M86.00 455.98L82.40 455.98M86.00 453.34L78.70 453.34M86.00 435.93L82.40 435.93M86.00 425.75L82.40 425.75M86.00 418.53L82.40 418.53M86.00 412.93L82.40 412.93M86.00 408.35L82.40 408.35M86.00 404.48L82.40 404.48M86.00 401.13L82.40 401.13M86.00 398.17L82.40 398.17M86.00 395.52L78.70 395.52M86.00 378.12L82.40 378.12M86.00 367.94L82.40 367.94M86.00 360.72L82.40 360.72M86.00 355.12L82.40 355.12M86.00 350.54L82.40 350.54M86.00 346.67L82.40 346.67M86.00 343.32L82.40 343.32M86.00 340.36L82.40 340.36M86.00 337.71L78.70 337.71M86.00 320.31L82.40 320.31M86.00 310.13L82.40 310.13M86.00 302.91L82.40 302.91M86.00 297.30L82.40 297.30M86.00 292.73L82.40 292.73M86.00 288.86L82.40 288.86M86.00 285.50L82.40 285.50M86.00 282.55L82.40 282.55M86.00 279.90L78.70 279.90M86.00 511.15L86.00 516.65M170.59 511.15L170.59 513.95M220.07 511.15L220.07 513.95M255.18 511.15L255.18 513.95M282.41 511.15L282.41 513.95M304.66 511.15L304.66 513.95M323.47 511.15L323.47 513.95M339.77 511.15L339.77 513.95M354.14 511.15L354.14 513.95M367.00 511.15L367.00 516.65" fill="none" stroke="#000" stroke-width="1.9" stroke-linecap="butt" stroke-linejoin="miter"/>
<path d="M84.29 531.92L85.12 531.51L86.55 530.23L86.55 541.00" fill="none" stroke="#000" stroke-width="2.05" stroke-linecap="round" stroke-linejoin="round"/>
<path d="M359.67 531.92L360.50 531.51L361.93 530.23L361.93 541.00M371.87 530.23L370.21 530.74L369.11 532.28L368.56 534.84L368.56 536.38L369.11 538.95L370.21 540.49L371.87 541.00L372.97 541.00L374.63 540.49L375.73 538.95L376.28 536.38L376.28 534.84L375.73 532.28L374.63 530.74L372.97 530.23L371.87 530.23" fill="none" stroke="#000" stroke-width="2.05" stroke-linecap="round" stroke-linejoin="round"/>
<path d="M153.31 552.23L153.31 563.00M153.31 552.23L160.49 552.23M153.31 557.36L157.73 557.36M163.25 555.82L163.25 563.00M163.25 558.90L163.80 557.36L164.90 556.33L166.01 555.82L167.66 555.82M169.87 558.90L176.50 558.90L176.50 557.87L175.94 556.84L175.39 556.33L174.29 555.82L172.63 555.82L171.53 556.33L170.42 557.36L169.87 558.90L169.87 559.92L170.42 561.46L171.53 562.49L172.63 563.00L174.29 563.00L175.39 562.49L176.50 561.46M186.43 555.82L186.43 566.59M186.43 557.36L185.33 556.33L184.22 555.82L182.57 555.82L181.46 556.33L180.36 557.36L179.81 558.90L179.81 559.92L180.36 561.46L181.46 562.49L182.57 563.00L184.22 563.00L185.33 562.49L186.43 561.46M190.85 555.82L190.85 560.95L191.40 562.49L192.50 563.00L194.16 563.00L195.26 562.49L196.92 560.95M196.92 555.82L196.92 563.00M200.78 558.90L207.41 558.90L207.41 557.87L206.86 556.84L206.30 556.33L205.20 555.82L203.54 555.82L202.44 556.33L201.34 557.36L200.78 558.90L200.78 559.92L201.34 561.46L202.44 562.49L203.54 563.00L205.20 563.00L206.30 562.49L207.41 561.46M211.27 555.82L211.27 563.00M211.27 557.87L212.93 556.33L214.03 555.82L215.69 555.82L216.79 556.33L217.34 557.87L217.34 563.00M227.83 557.36L226.73 556.33L225.62 555.82L223.97 555.82L222.86 556.33L221.76 557.36L221.21 558.90L221.21 559.92L221.76 561.46L222.86 562.49L223.97 563.00L225.62 563.00L226.73 562.49L227.83 561.46M230.59 555.82L233.90 563.00M237.22 555.82L233.90 563.00L232.80 565.05L231.70 566.08L230.59 566.59L230.04 566.59M253.22 550.17L252.12 551.20L251.02 552.74L249.91 554.79L249.36 557.36L249.36 559.41L249.91 561.97L251.02 564.03L252.12 565.57L253.22 566.59M257.09 555.82L257.09 563.00M257.09 557.87L258.74 556.33L259.85 555.82L261.50 555.82L262.61 556.33L263.16 557.87L263.16 563.00M263.16 557.87L264.82 556.33L265.92 555.82L267.58 555.82L268.68 556.33L269.23 557.87L269.23 563.00M273.65 552.23L273.65 563.00M281.38 552.23L281.38 563.00M273.65 557.36L281.38 557.36M291.31 555.82L285.24 563.00M285.24 555.82L291.31 555.82M285.24 563.00L291.31 563.00M294.62 550.17L295.73 551.20L296.83 552.74L297.94 554.79L298.49 557.36L298.49 559.41L297.94 561.97L296.83 564.03L295.73 565.57L294.62 566.59" fill="none" stroke="#000" stroke-width="2.05" stroke-linecap="round" stroke-linejoin="round"/>
<path d="M69.80 278.22L72.44 278.22L71.00 280.00L71.72 280.00L72.20 280.22L72.44 280.45L72.68 281.12L72.68 281.56L72.44 282.23L71.96 282.68L71.24 282.90L70.52 282.90L69.80 282.68L69.56 282.45L69.32 282.01" fill="none" stroke="#000" stroke-width="2.05" stroke-linecap="round" stroke-linejoin="round"/>
<path d="M50.03 282.22L50.86 281.81L52.29 280.53L52.29 291.30M62.23 280.53L60.57 281.04L59.47 282.58L58.92 285.14L58.92 286.68L59.47 289.25L60.57 290.79L62.23 291.30L63.33 291.30L64.99 290.79L66.09 289.25L66.64 286.68L66.64 285.14L66.09 282.58L64.99 281.04L63.33 280.53L62.23 280.53" fill="none" stroke="#000" stroke-width="2.05" stroke-linecap="round" stroke-linejoin="round"/>
<path d="M69.56 332.74L69.56 332.52L69.80 332.07L70.04 331.85L70.52 331.63L71.48 331.63L71.96 331.85L72.20 332.07L72.44 332.52L72.44 332.97L72.20 333.41L71.72 334.08L69.32 336.31L72.68 336.31" fill="none" stroke="#000" stroke-width="2.05" stroke-linecap="round" stroke-linejoin="round"/>
<path d="M50.03 335.63L50.86 335.22L52.29 333.94L52.29 344.71M62.23 333.94L60.57 334.45L59.47 335.99L58.92 338.56L58.92 340.10L59.47 342.66L60.57 344.20L62.23 344.71L63.33 344.71L64.99 344.20L66.09 342.66L66.64 340.10L66.64 338.56L66.09 335.99L64.99 334.45L63.33 333.94L62.23 333.94" fill="none" stroke="#000" stroke-width="2.05" stroke-linecap="round" stroke-linejoin="round"/>
<path d="M70.26 390.18L70.62 390.00L71.24 389.44L71.24 394.12" fill="none" stroke="#000" stroke-width="2.05" stroke-linecap="round" stroke-linejoin="round"/>
<path d="M50.03 393.44L50.86 393.03L52.29 391.75L52.29 402.52M62.23 391.75L60.57 392.26L59.47 393.80L58.92 396.37L58.92 397.91L59.47 400.47L60.57 402.01L62.23 402.52L63.33 402.52L64.99 402.01L66.09 400.47L66.64 397.91L66.64 396.37L66.09 393.80L64.99 392.26L63.33 391.75L62.23 391.75" fill="none" stroke="#000" stroke-width="2.05" stroke-linecap="round" stroke-linejoin="round"/>
<path d="M70.76 447.25L70.04 447.48L69.56 448.15L69.32 449.26L69.32 449.93L69.56 451.05L70.04 451.71L70.76 451.94L71.24 451.94L71.96 451.71L72.44 451.05L72.68 449.93L72.68 449.26L72.44 448.15L71.96 447.48L71.24 447.25L70.76 447.25" fill="none" stroke="#000" stroke-width="2.05" stroke-linecap="round" stroke-linejoin="round"/>
<path d="M50.03 451.26L50.86 450.85L52.29 449.56L52.29 460.34M62.23 449.56L60.57 450.08L59.47 451.62L58.92 454.18L58.92 455.72L59.47 458.29L60.57 459.82L62.23 460.34L63.33 460.34L64.99 459.82L66.09 458.29L66.64 455.72L66.64 454.18L66.09 451.62L64.99 450.08L63.33 449.56L62.23 449.56" fill="none" stroke="#000" stroke-width="2.05" stroke-linecap="round" stroke-linejoin="round"/>
<path d="M63.56 500.19L67.23 500.19M70.26 498.25L70.62 498.07L71.24 497.52L71.24 502.20" fill="none" stroke="#000" stroke-width="2.05" stroke-linecap="round" stroke-linejoin="round"/>
<path d="M43.79 501.52L44.62 501.11L46.05 499.83L46.05 510.60M55.99 499.83L54.33 500.34L53.23 501.88L52.68 504.44L52.68 505.98L53.23 508.55L54.33 510.09L55.99 510.60L57.09 510.60L58.75 510.09L59.85 508.55L60.40 505.98L60.40 504.44L59.85 501.88L58.75 500.34L57.09 499.83L55.99 499.83" fill="none" stroke="#000" stroke-width="2.05" stroke-linecap="round" stroke-linejoin="round"/>
<path d="M12.88 462.79L23.70 462.79M12.88 462.79L12.88 457.82L13.40 456.17L13.91 455.62L14.94 455.06L16.49 455.06L17.52 455.62L18.04 456.17L18.55 457.82L18.55 462.79M14.43 444.02L13.40 445.13L12.88 446.78L12.88 448.99L13.40 450.65L14.43 451.75L15.46 451.75L16.49 451.20L17.00 450.65L17.52 449.54L18.55 446.23L19.06 445.13L19.58 444.58L20.61 444.02L22.16 444.02L23.18 445.13L23.70 446.78L23.70 448.99L23.18 450.65L22.16 451.75M12.88 440.16L23.70 440.16M12.88 440.16L12.88 436.30L13.40 434.64L14.43 433.54L15.46 432.98L17.00 432.43L19.58 432.43L21.12 432.98L22.16 433.54L23.18 434.64L23.70 436.30L23.70 440.16M10.82 415.87L11.85 416.98L13.40 418.08L15.46 419.18L18.04 419.74L20.09 419.74L22.67 419.18L24.73 418.08L26.27 416.98L27.30 415.87M12.88 412.01L23.70 412.01M12.88 412.01L12.88 408.14L13.40 406.49L14.43 405.38L15.46 404.83L17.00 404.28L19.58 404.28L21.12 404.83L22.16 405.38L23.18 406.49L23.70 408.14L23.70 412.01M12.88 400.42L23.70 400.42M12.88 400.42L23.70 392.69M12.88 392.69L23.70 392.69" fill="none" stroke="#000" stroke-width="2.05" stroke-linecap="round" stroke-linejoin="round"/>
<path d="M11.50 388.68L11.27 388.68L10.82 388.48L10.60 388.28L10.38 387.88L10.38 387.08L10.60 386.68L10.82 386.48L11.27 386.28L11.72 386.28L12.17 386.48L12.85 386.88L15.10 388.88L15.10 386.08" fill="none" stroke="#000" stroke-width="2.05" stroke-linecap="round" stroke-linejoin="round"/>
<path d="M10.82 375.10L27.30 382.82M16.49 371.23L23.70 371.23M18.55 371.23L17.00 369.58L16.49 368.47L16.49 366.82L17.00 365.71L18.55 365.16L23.70 365.16M18.55 365.16L17.00 363.50L16.49 362.40L16.49 360.74L17.00 359.64L18.55 359.09L23.70 359.09M12.88 354.67L23.70 354.67M12.88 346.94L23.70 346.94M18.04 354.67L18.04 346.94M16.49 337.01L23.70 343.08M16.49 343.08L16.49 337.01M23.70 343.08L23.70 337.01M10.82 333.70L11.85 332.59L13.40 331.49L15.46 330.38L18.04 329.83L20.09 329.83L22.67 330.38L24.73 331.49L26.27 332.59L27.30 333.70" fill="none" stroke="#000" stroke-width="2.05" stroke-linecap="round" stroke-linejoin="round"/>
<path d="M380.22 477.02L399.03 476.52L415.33 475.65L429.70 475.04L442.56 473.84L454.19 473.11L464.81 471.54L474.58 470.71L483.62 468.68L492.04 467.76L499.92 465.16L507.32 464.17L514.29 460.87L520.89 459.80L527.15 455.58L533.11 454.47L538.78 449.01L544.21 447.87L549.40 440.63L554.38 439.51L559.17 429.52L563.77 428.44L568.21 413.63L572.50 412.56L576.63 387.30L580.63 384.38L584.51 320.13L588.26 307.94L591.91 315.96L595.44 308.16L598.88 316.09L602.23 370.68L605.48 395.03L608.65 408.83L611.74 424.17L614.75 430.28L617.69 442.31L620.57 445.58L623.37 455.71L626.11 457.62L628.80 466.47L631.42 467.60L633.99 475.52L636.51 476.16L638.97 483.37L641.39 483.68L643.76 490.32L646.08 490.39L648.36 496.57L650.60 496.46L652.80 502.26L654.96 502.01L657.08 507.48L659.17 507.12L661.22 512.31L663.24 511.87L665.22 516.80L667.18 516.29L669.10 521.00L670.99 520.44L672.85 524.95L674.69 524.34L676.50 528.67L678.28 528.02L680.03 532.20L681.77 531.51L683.47 535.54L685.16 534.82L686.82 538.71L688.45 537.98L690.07 541.74L691.67 540.99L693.24 544.64L694.79 543.87" fill="none" stroke="#FF0000" stroke-width="1.85" stroke-linecap="butt" stroke-linejoin="round" clip-path="url(#cr)"/>
<path d="M380.22 492.03L399.03 491.41L415.33 490.69L429.70 489.86L442.56 488.93L454.19 487.87L464.81 486.69L474.58 485.38L483.62 483.93L492.04 482.32L499.92 480.55L507.32 478.60L514.29 476.45L520.89 474.09L527.15 471.47L533.11 468.56L538.78 465.33L544.21 461.71L549.40 457.63L554.38 452.97L559.17 447.59L563.77 441.24L568.21 433.54L572.50 423.79L576.63 410.54L580.63 390.05L584.51 347.94L588.26 288.47L591.91 341.03L595.44 295.31L598.88 325.96L602.23 376.07L605.48 400.97L608.65 417.36L611.74 429.64L614.75 439.15L617.69 447.15L620.57 453.70L623.37 459.58L626.11 464.58L628.80 469.31L631.42 473.51L633.99 477.65L636.51 481.52L638.97 485.38L641.39 488.91L643.76 492.33L646.08 495.50L648.36 498.57L650.60 501.44L652.80 504.24L654.96 506.87L657.08 509.43L659.17 511.86L661.22 514.23L663.24 516.48L665.22 518.69L667.18 520.79L669.10 522.85L670.99 524.82L672.85 526.76L674.69 528.61L676.50 530.43L678.28 532.19L680.03 533.91L681.77 535.57L683.47 537.21L685.16 538.78L686.82 540.34L688.45 541.84L690.07 543.32L691.67 544.75L693.24 546.16L694.79 546.53" fill="none" stroke="#000" stroke-width="1.9" stroke-linecap="butt" stroke-linejoin="round" clip-path="url(#cr)"/>
<path d="M391.00 278.95L391.00 512.10M390.05 511.15L672.95 511.15M391.00 511.15L383.70 511.15M391.00 493.75L387.40 493.75M391.00 483.57L387.40 483.57M391.00 476.34L387.40 476.34M391.00 470.74L387.40 470.74M391.00 466.16L387.40 466.16M391.00 462.29L387.40 462.29M391.00 458.94L387.40 458.94M391.00 455.98L387.40 455.98M391.00 453.34L383.70 453.34M391.00 435.93L387.40 435.93M391.00 425.75L387.40 425.75M391.00 418.53L387.40 418.53M391.00 412.93L387.40 412.93M391.00 408.35L387.40 408.35M391.00 404.48L387.40 404.48M391.00 401.13L387.40 401.13M391.00 398.17L387.40 398.17M391.00 395.52L383.70 395.52M391.00 378.12L387.40 378.12M391.00 367.94L387.40 367.94M391.00 360.72L387.40 360.72M391.00 355.12L387.40 355.12M391.00 350.54L387.40 350.54M391.00 346.67L387.40 346.67M391.00 343.32L387.40 343.32M391.00 340.36L387.40 340.36M391.00 337.71L383.70 337.71M391.00 320.31L387.40 320.31M391.00 310.13L387.40 310.13M391.00 302.91L387.40 302.91M391.00 297.30L387.40 297.30M391.00 292.73L387.40 292.73M391.00 288.86L387.40 288.86M391.00 285.50L387.40 285.50M391.00 282.55L387.40 282.55M391.00 279.90L383.70 279.90M391.00 511.15L391.00 516.65M475.59 511.15L475.59 513.95M525.07 511.15L525.07 513.95M560.18 511.15L560.18 513.95M587.41 511.15L587.41 513.95M609.66 511.15L609.66 513.95M628.47 511.15L628.47 513.95M644.77 511.15L644.77 513.95M659.14 511.15L659.14 513.95M672.00 511.15L672.00 516.65" fill="none" stroke="#000" stroke-width="1.9" stroke-linecap="butt" stroke-linejoin="miter"/>
<path d="M389.29 531.92L390.12 531.51L391.55 530.23L391.55 541.00" fill="none" stroke="#000" stroke-width="2.05" stroke-linecap="round" stroke-linejoin="round"/>
<path d="M664.67 531.92L665.50 531.51L666.93 530.23L666.93 541.00M676.87 530.23L675.21 530.74L674.11 532.28L673.56 534.84L673.56 536.38L674.11 538.95L675.21 540.49L676.87 541.00L677.97 541.00L679.63 540.49L680.73 538.95L681.28 536.38L681.28 534.84L680.73 532.28L679.63 530.74L677.97 530.23L676.87 530.23" fill="none" stroke="#000" stroke-width="2.05" stroke-linecap="round" stroke-linejoin="round"/>
<path d="M458.31 552.23L458.31 563.00M458.31 552.23L465.49 552.23M458.31 557.36L462.73 557.36M468.25 555.82L468.25 563.00M468.25 558.90L468.80 557.36L469.90 556.33L471.01 555.82L472.66 555.82M474.87 558.90L481.50 558.90L481.50 557.87L480.94 556.84L480.39 556.33L479.29 555.82L477.63 555.82L476.53 556.33L475.42 557.36L474.87 558.90L474.87 559.92L475.42 561.46L476.53 562.49L477.63 563.00L479.29 563.00L480.39 562.49L481.50 561.46M491.43 555.82L491.43 566.59M491.43 557.36L490.33 556.33L489.22 555.82L487.57 555.82L486.46 556.33L485.36 557.36L484.81 558.90L484.81 559.92L485.36 561.46L486.46 562.49L487.57 563.00L489.22 563.00L490.33 562.49L491.43 561.46M495.85 555.82L495.85 560.95L496.40 562.49L497.50 563.00L499.16 563.00L500.26 562.49L501.92 560.95M501.92 555.82L501.92 563.00M505.78 558.90L512.41 558.90L512.41 557.87L511.86 556.84L511.30 556.33L510.20 555.82L508.54 555.82L507.44 556.33L506.34 557.36L505.78 558.90L505.78 559.92L506.34 561.46L507.44 562.49L508.54 563.00L510.20 563.00L511.30 562.49L512.41 561.46M516.27 555.82L516.27 563.00M516.27 557.87L517.93 556.33L519.03 555.82L520.69 555.82L521.79 556.33L522.34 557.87L522.34 563.00M532.83 557.36L531.73 556.33L530.62 555.82L528.97 555.82L527.86 556.33L526.76 557.36L526.21 558.90L526.21 559.92L526.76 561.46L527.86 562.49L528.97 563.00L530.62 563.00L531.73 562.49L532.83 561.46M535.59 555.82L538.90 563.00M542.22 555.82L538.90 563.00L537.80 565.05L536.70 566.08L535.59 566.59L535.04 566.59M558.22 550.17L557.12 551.20L556.02 552.74L554.91 554.79L554.36 557.36L554.36 559.41L554.91 561.97L556.02 564.03L557.12 565.57L558.22 566.59M562.09 555.82L562.09 563.00M562.09 557.87L563.74 556.33L564.85 555.82L566.50 555.82L567.61 556.33L568.16 557.87L568.16 563.00M568.16 557.87L569.82 556.33L570.92 555.82L572.58 555.82L573.68 556.33L574.23 557.87L574.23 563.00M578.65 552.23L578.65 563.00M586.38 552.23L586.38 563.00M578.65 557.36L586.38 557.36M596.31 555.82L590.24 563.00M590.24 555.82L596.31 555.82M590.24 563.00L596.31 563.00M599.62 550.17L600.73 551.20L601.83 552.74L602.94 554.79L603.49 557.36L603.49 559.41L602.94 561.97L601.83 564.03L600.73 565.57L599.62 566.59" fill="none" stroke="#000" stroke-width="2.05" stroke-linecap="round" stroke-linejoin="round"/>
</svg>
</body></html>
